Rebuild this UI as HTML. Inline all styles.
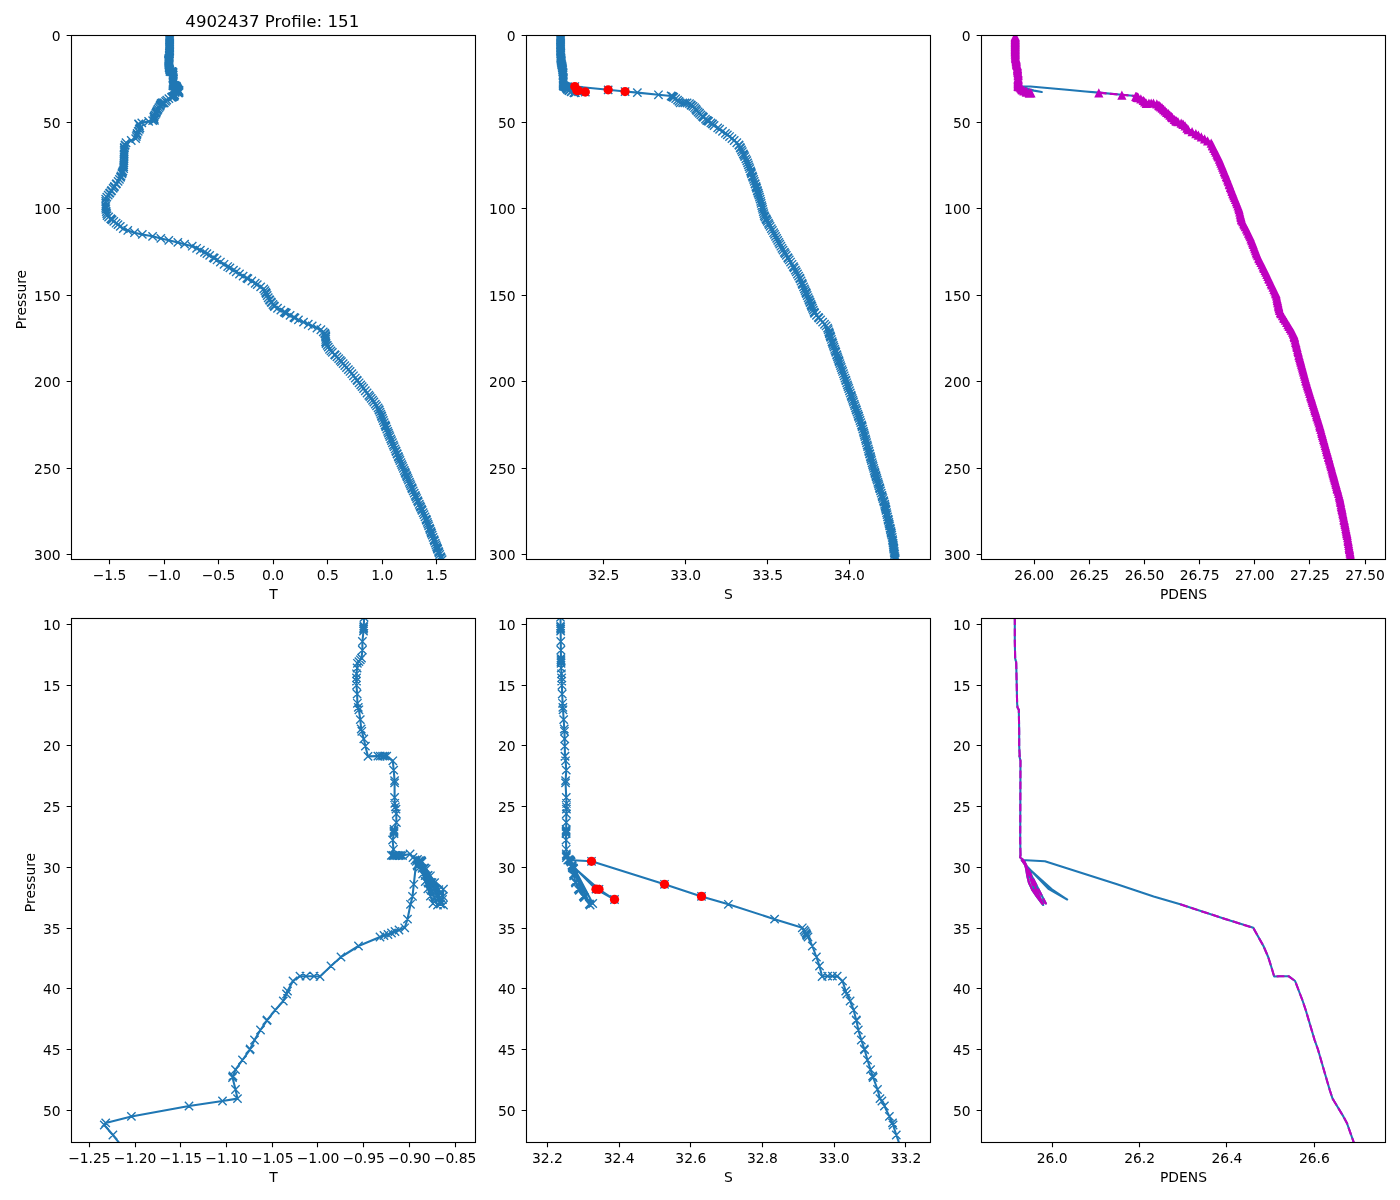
<!DOCTYPE html>
<html lang="en"><head><meta charset="utf-8"><title>4902437 Profile: 151</title>
<style>html,body{margin:0;padding:0;background:#fff}body{width:1400px;height:1200px;overflow:hidden}svg{display:block}</style></head>
<body>
<svg width="1400" height="1200" viewBox="0 0 1400 1200" font-family="DejaVu Sans, Liberation Sans, sans-serif" fill="#000">
<rect width="1400" height="1200" fill="#fff"/>
<defs><clipPath id="c00"><rect x="71.5" y="35.5" width="404" height="524"/></clipPath><clipPath id="c01"><rect x="71.5" y="618.5" width="404" height="524"/></clipPath><clipPath id="c10"><rect x="526.5" y="35.5" width="404" height="524"/></clipPath><clipPath id="c11"><rect x="526.5" y="618.5" width="404" height="524"/></clipPath><clipPath id="c20"><rect x="981.5" y="35.5" width="404" height="524"/></clipPath><clipPath id="c21"><rect x="981.5" y="618.5" width="404" height="524"/></clipPath></defs>
<g clip-path="url(#c00)"><polyline points="169.61,35.85 169.61,36.62 169.61,37.4 169.61,38.18 169.61,38.96 169.61,39.74 169.61,40.52 169.61,41.3 169.61,42.07 169.61,42.85 169.61,43.63 169.61,44.41 169.61,45.19 169.61,45.97 169.61,46.75 169.61,47.52 169.61,48.3 169.61,49.08 169.61,49.86 169.61,50.64 169.61,51.42 169.56,51.8 169.52,53 169.51,53.24 169.5,53.48 169.48,53.74 169.35,55.24 169.35,56.47 169.25,57.6 169.1,57.84 168.94,58.1 168.76,58.34 168.72,59.01 168.65,59.84 168.65,60.42 168.65,60.89 168.65,61.47 168.72,62.71 168.76,64.04 168.86,64.62 168.94,64.96 169.1,66.37 169.21,67.7 169.28,68.02 169.52,69.11 169.71,70.15 170.02,71.6 171.2,71.56 171.49,71.56 171.76,71.56 172,71.56 172.25,71.56 172.98,72.23 173.09,73.55 173.2,75.05 173.2,75.37 173.2,77.45 173.22,78.28 173.29,78.78 173.36,79.12 173.4,79.77 173.41,81.01 173.12,82.01 173.12,82.22 173.12,82.42 173.12,82.59 172.96,83.5 173.06,84.83 172.81,85.7 173,85.71 173.18,85.73 173.36,85.7 173.54,85.71 173.72,85.73 173.9,85.7 174.14,85.71 175.05,85.5 175.39,86 175.93,86.28 176.24,87.33 176.54,88.37 176.85,89.42 177.16,90.46 177.47,91.5 177.78,92.55 176.11,86.5 176.48,87.54 176.84,88.58 177.21,89.63 177.58,90.67 177.95,91.72 178.31,92.76 176.29,86.42 176.74,87.48 177.2,88.54 177.66,89.59 178.12,90.65 178.57,91.71 179.03,92.76 176.41,86.5 176.78,87.52 177.16,88.54 177.54,89.56 177.92,90.58 178.29,91.6 178.67,92.62 176.47,86.64 176.97,87.62 177.47,88.6 177.97,89.59 178.47,90.57 178.97,91.55 175.87,87.07 179.03,90.51 178.91,91.98 178.99,90.53 175.93,87.21 175.63,86.35 175.78,86.54 175.49,89.81 175.33,91.54 175.09,92.66 174.73,94.78 174.4,96.01 173.72,96.32 173.24,96.54 172.83,96.75 172.41,96.96 171.93,97.11 171.45,97.32 168.89,98.6 166.8,100.17 165.61,101.45 164.29,102.94 163.58,102.9 162.62,102.9 161.91,102.9 161.07,103.59 160.41,105.01 160.3,105.44 159.91,106.43 158.96,107.72 157.99,109.14 157.94,109.23 157.19,110.56 156.48,111.99 155.96,113.27 155.92,113.38 155.04,114.84 154.21,116.22 153.91,117.12 153.85,117.33 154.21,119.04 154.45,120.33 152.66,120.68 148.66,121.39 141.79,122.87 138.72,123.79 138.55,124.09 139.58,125.52 139.96,127.88 139.27,129.27 138.23,131.34 137.19,133.42 136.76,134.8 136.28,136.53 135.68,138.61 131.26,140.51 126.03,142.76 125.16,144.84 124.99,145.44 124.41,147.52 124.29,148.12 124.24,150.03 124.19,151.76 124.13,153.83 124.09,155.22 124.05,156.6 123.99,158.85 123.94,160.75 123.87,162.83 123.78,164.9 123.7,166.81 123.62,168.71 122.96,170.96 122.42,172.34 121.89,173.73 121.02,175.98 120.48,177.36 119.42,179.44 118.09,181.34 116.51,183.59 116.09,184.19 114.52,186.44 114.1,187.05 113.11,188.43 111.6,190.51 111.16,191.11 109.9,192.84 109.45,193.45 108.19,195.18 106.81,197.08 105.7,199.16 105.7,201.41 105.7,203.31 105.7,205.56 105.7,207.46 105.85,209.36 106.29,211.61 106.7,213.69 107.08,215.59 108.63,216.98 110.69,218.71 111.41,219.31 112.14,219.92 113.79,221.3 116.11,223.2 117.97,224.59 120.29,226.32 123.32,228.57 127.79,230.47 134.48,232.72 142.32,234.45 152.59,236.35 160.84,238.43 168.8,240.33 177.85,242.41 184.56,244.14 192.21,246.21 196.62,248.29 200.37,250.19 204.46,252.27 206.91,253.65 209.69,255.38 213.3,257.63 214.27,258.24 217.05,259.97 220.41,262.04 224.05,264.29 227.7,266.54 229.91,267.93 233.47,270.17 236.21,271.9 239.49,273.98 243.13,276.06 246.83,278.13 247.91,278.74 251.83,280.99 255.2,283.24 257.28,284.62 260.65,286.87 263.77,288.94 264.94,290.67 265.74,292.4 266.02,293.01 266.3,293.62 267.18,295.52 268.22,297.77 269.38,299.67 269.83,300.28 271.09,302.01 271.53,302.61 272.92,304.51 273.93,305.9 274.48,306.5 277.52,308.23 280.85,310.14 284.19,312.04 285.25,312.65 286.34,313.25 290.11,315.33 293.88,317.4 294.98,318.01 298.44,319.91 303.53,322.16 308.26,324.24 312.2,325.97 316.94,328.04 320.88,329.77 323.25,331.85 324.63,333.23 325.24,333.84 325.7,335.57 325.7,336.17 325.7,336.78 325.7,337.38 325.7,339.46 325.7,341.54 325.7,342.14 326.08,343.53 327.23,345.43 328.28,347.16 329.54,349.24 330.97,350.97 332.35,352.35 334.6,354.6 335.2,355.2 336.93,356.93 338.66,358.66 340.2,360.39 341.43,361.78 343.13,363.68 344.82,365.58 346.51,367.49 348.36,369.56 350.05,371.47 351.85,373.71 353.5,375.79 355.29,378.04 356.95,380.12 357.43,380.72 359.09,382.8 360.74,384.87 362.1,386.6 363.58,388.51 365.32,390.76 367.06,393 368.81,395.25 369.88,396.64 371.22,398.37 372.6,400.27 373.85,402 375.34,404.08 376.59,405.81 378.08,407.88 379,409.61 379.24,410.22 380,412.12 380.83,414.2 381.52,415.93 381.76,416.53 382.52,418.44 383.35,420.51 384.18,422.59 385.08,424.84 385.63,426.22 385.88,426.83 386.78,429.07 387.68,431.32 388.38,433.05 389.14,434.96 389.83,436.69 390.78,438.94 391.52,440.67 392.4,442.74 393.35,444.99 394.09,446.72 395.05,448.97 395.86,450.87 396.11,451.48 397,453.55 397.25,454.16 398.21,456.41 398.47,457.01 399.21,458.74 399.96,460.47 400.93,462.72 401.76,464.63 402.51,466.36 403.41,468.43 404.31,470.51 405.06,472.24 405.66,473.62 406.41,475.35 407.01,476.74 407.76,478.47 408.51,480.2 409.41,482.27 410.16,484 410.91,485.73 411.74,487.64 412,488.24 412.26,488.85 413.19,490.92 414.22,493.17 415.24,495.42 415.87,496.8 416.66,498.53 417.61,500.61 418.24,501.99 419.26,504.24 420.05,505.97 420.68,507.36 421.47,509.09 422.1,510.47 423.12,512.72 423.99,514.62 425.01,516.87 426.04,519.12 426.31,519.73 426.54,520.33 427.34,522.41 428,524.14 428.67,525.87 429.53,528.12 430.06,529.5 430.79,531.4 431.32,532.79 431.56,533.39 432.22,535.12 433.08,537.37 433.95,539.62 434.48,541.01 435.27,543.08 436,544.99 436.67,546.72 437.2,548.1 437.43,548.7 437.66,549.31 438.46,551.39 438.99,552.77 439.65,554.5 440.59,556.58 441.28,557.96 442.13,559.69" fill="none" stroke="#1f77b4" stroke-width="2.08" stroke-linejoin="round" stroke-linecap="square"/><path d="M165.45 31.68l8.33 8.33m0 -8.33l-8.33 8.33M165.45 32.46l8.33 8.33m0 -8.33l-8.33 8.33M165.45 33.24l8.33 8.33m0 -8.33l-8.33 8.33M165.45 34.01l8.33 8.33m0 -8.33l-8.33 8.33M165.45 34.79l8.33 8.33m0 -8.33l-8.33 8.33M165.45 35.57l8.33 8.33m0 -8.33l-8.33 8.33M165.45 36.35l8.33 8.33m0 -8.33l-8.33 8.33M165.45 37.13l8.33 8.33m0 -8.33l-8.33 8.33M165.45 37.91l8.33 8.33m0 -8.33l-8.33 8.33M165.45 38.69l8.33 8.33m0 -8.33l-8.33 8.33M165.45 39.46l8.33 8.33m0 -8.33l-8.33 8.33M165.45 40.24l8.33 8.33m0 -8.33l-8.33 8.33M165.45 41.02l8.33 8.33m0 -8.33l-8.33 8.33M165.45 41.8l8.33 8.33m0 -8.33l-8.33 8.33M165.45 42.58l8.33 8.33m0 -8.33l-8.33 8.33M165.45 43.36l8.33 8.33m0 -8.33l-8.33 8.33M165.45 44.14l8.33 8.33m0 -8.33l-8.33 8.33M165.45 44.91l8.33 8.33m0 -8.33l-8.33 8.33M165.45 45.69l8.33 8.33m0 -8.33l-8.33 8.33M165.45 46.47l8.33 8.33m0 -8.33l-8.33 8.33M165.45 47.25l8.33 8.33m0 -8.33l-8.33 8.33M165.39 47.64l8.33 8.33m0 -8.33l-8.33 8.33M165.35 48.83l8.33 8.33m0 -8.33l-8.33 8.33M165.34 49.07l8.33 8.33m0 -8.33l-8.33 8.33M165.33 49.32l8.33 8.33m0 -8.33l-8.33 8.33M165.32 49.57l8.33 8.33m0 -8.33l-8.33 8.33M165.19 51.07l8.33 8.33m0 -8.33l-8.33 8.33M165.19 52.31l8.33 8.33m0 -8.33l-8.33 8.33M165.08 53.43l8.33 8.33m0 -8.33l-8.33 8.33M164.94 53.67l8.33 8.33m0 -8.33l-8.33 8.33M164.77 53.93l8.33 8.33m0 -8.33l-8.33 8.33M164.59 54.17l8.33 8.33m0 -8.33l-8.33 8.33M164.55 54.84l8.33 8.33m0 -8.33l-8.33 8.33M164.48 55.67l8.33 8.33m0 -8.33l-8.33 8.33M164.48 56.25l8.33 8.33m0 -8.33l-8.33 8.33M164.48 56.72l8.33 8.33m0 -8.33l-8.33 8.33M164.48 57.31l8.33 8.33m0 -8.33l-8.33 8.33M164.55 58.55l8.33 8.33m0 -8.33l-8.33 8.33M164.59 59.87l8.33 8.33m0 -8.33l-8.33 8.33M164.7 60.45l8.33 8.33m0 -8.33l-8.33 8.33M164.77 60.8l8.33 8.33m0 -8.33l-8.33 8.33M164.94 62.21l8.33 8.33m0 -8.33l-8.33 8.33M165.04 63.53l8.33 8.33m0 -8.33l-8.33 8.33M165.11 63.86l8.33 8.33m0 -8.33l-8.33 8.33M165.35 64.94l8.33 8.33m0 -8.33l-8.33 8.33M165.54 65.98l8.33 8.33m0 -8.33l-8.33 8.33M165.85 67.43l8.33 8.33m0 -8.33l-8.33 8.33M167.04 67.39l8.33 8.33m0 -8.33l-8.33 8.33M167.32 67.39l8.33 8.33m0 -8.33l-8.33 8.33M167.6 67.39l8.33 8.33m0 -8.33l-8.33 8.33M167.84 67.39l8.33 8.33m0 -8.33l-8.33 8.33M168.09 67.39l8.33 8.33m0 -8.33l-8.33 8.33M168.81 68.06l8.33 8.33m0 -8.33l-8.33 8.33M168.92 69.38l8.33 8.33m0 -8.33l-8.33 8.33M169.03 70.88l8.33 8.33m0 -8.33l-8.33 8.33M169.03 71.21l8.33 8.33m0 -8.33l-8.33 8.33M169.03 73.29l8.33 8.33m0 -8.33l-8.33 8.33M169.05 74.11l8.33 8.33m0 -8.33l-8.33 8.33M169.12 74.61l8.33 8.33m0 -8.33l-8.33 8.33M169.2 74.95l8.33 8.33m0 -8.33l-8.33 8.33M169.23 75.61l8.33 8.33m0 -8.33l-8.33 8.33M169.24 76.85l8.33 8.33m0 -8.33l-8.33 8.33M168.96 77.84l8.33 8.33m0 -8.33l-8.33 8.33M168.96 78.06l8.33 8.33m0 -8.33l-8.33 8.33M168.96 78.26l8.33 8.33m0 -8.33l-8.33 8.33M168.96 78.43l8.33 8.33m0 -8.33l-8.33 8.33M168.79 79.34l8.33 8.33m0 -8.33l-8.33 8.33M168.9 80.66l8.33 8.33m0 -8.33l-8.33 8.33M168.65 81.53l8.33 8.33m0 -8.33l-8.33 8.33M168.84 81.55l8.33 8.33m0 -8.33l-8.33 8.33M169.02 81.56l8.33 8.33m0 -8.33l-8.33 8.33M169.2 81.53l8.33 8.33m0 -8.33l-8.33 8.33M169.37 81.55l8.33 8.33m0 -8.33l-8.33 8.33M169.55 81.56l8.33 8.33m0 -8.33l-8.33 8.33M169.73 81.53l8.33 8.33m0 -8.33l-8.33 8.33M169.97 81.55l8.33 8.33m0 -8.33l-8.33 8.33M170.88 81.33l8.33 8.33m0 -8.33l-8.33 8.33M171.22 81.83l8.33 8.33m0 -8.33l-8.33 8.33M171.76 82.12l8.33 8.33m0 -8.33l-8.33 8.33M172.07 83.16l8.33 8.33m0 -8.33l-8.33 8.33M172.38 84.2l8.33 8.33m0 -8.33l-8.33 8.33M172.69 85.25l8.33 8.33m0 -8.33l-8.33 8.33M172.99 86.29l8.33 8.33m0 -8.33l-8.33 8.33M173.3 87.34l8.33 8.33m0 -8.33l-8.33 8.33M173.61 88.38l8.33 8.33m0 -8.33l-8.33 8.33M171.94 82.33l8.33 8.33m0 -8.33l-8.33 8.33M172.31 83.37l8.33 8.33m0 -8.33l-8.33 8.33M172.68 84.42l8.33 8.33m0 -8.33l-8.33 8.33M173.04 85.46l8.33 8.33m0 -8.33l-8.33 8.33M173.41 86.51l8.33 8.33m0 -8.33l-8.33 8.33M173.78 87.55l8.33 8.33m0 -8.33l-8.33 8.33M174.15 88.6l8.33 8.33m0 -8.33l-8.33 8.33M172.12 82.26l8.33 8.33m0 -8.33l-8.33 8.33M172.58 83.31l8.33 8.33m0 -8.33l-8.33 8.33M173.03 84.37l8.33 8.33m0 -8.33l-8.33 8.33M173.49 85.43l8.33 8.33m0 -8.33l-8.33 8.33M173.95 86.48l8.33 8.33m0 -8.33l-8.33 8.33M174.41 87.54l8.33 8.33m0 -8.33l-8.33 8.33M174.86 88.6l8.33 8.33m0 -8.33l-8.33 8.33M172.24 82.33l8.33 8.33m0 -8.33l-8.33 8.33M172.62 83.35l8.33 8.33m0 -8.33l-8.33 8.33M172.99 84.37l8.33 8.33m0 -8.33l-8.33 8.33M173.37 85.39l8.33 8.33m0 -8.33l-8.33 8.33M173.75 86.41l8.33 8.33m0 -8.33l-8.33 8.33M174.13 87.43l8.33 8.33m0 -8.33l-8.33 8.33M174.51 88.45l8.33 8.33m0 -8.33l-8.33 8.33M172.3 82.47l8.33 8.33m0 -8.33l-8.33 8.33M172.8 83.45l8.33 8.33m0 -8.33l-8.33 8.33M173.3 84.44l8.33 8.33m0 -8.33l-8.33 8.33M173.8 85.42l8.33 8.33m0 -8.33l-8.33 8.33M174.3 86.4l8.33 8.33m0 -8.33l-8.33 8.33M174.8 87.38l8.33 8.33m0 -8.33l-8.33 8.33M171.7 82.9l8.33 8.33m0 -8.33l-8.33 8.33M174.86 86.35l8.33 8.33m0 -8.33l-8.33 8.33M174.74 87.81l8.33 8.33m0 -8.33l-8.33 8.33M174.83 86.36l8.33 8.33m0 -8.33l-8.33 8.33M171.76 83.04l8.33 8.33m0 -8.33l-8.33 8.33M171.46 82.19l8.33 8.33m0 -8.33l-8.33 8.33M171.62 82.37l8.33 8.33m0 -8.33l-8.33 8.33M171.32 85.65l8.33 8.33m0 -8.33l-8.33 8.33M171.16 87.37l8.33 8.33m0 -8.33l-8.33 8.33M170.93 88.5l8.33 8.33m0 -8.33l-8.33 8.33M170.57 90.62l8.33 8.33m0 -8.33l-8.33 8.33M170.23 91.84l8.33 8.33m0 -8.33l-8.33 8.33M169.55 92.16l8.33 8.33m0 -8.33l-8.33 8.33M169.08 92.37l8.33 8.33m0 -8.33l-8.33 8.33M168.66 92.58l8.33 8.33m0 -8.33l-8.33 8.33M168.24 92.8l8.33 8.33m0 -8.33l-8.33 8.33M167.76 92.94l8.33 8.33m0 -8.33l-8.33 8.33M167.29 93.15l8.33 8.33m0 -8.33l-8.33 8.33M164.72 94.43l8.33 8.33m0 -8.33l-8.33 8.33M162.63 96l8.33 8.33m0 -8.33l-8.33 8.33M161.44 97.28l8.33 8.33m0 -8.33l-8.33 8.33M160.13 98.78l8.33 8.33m0 -8.33l-8.33 8.33M159.41 98.74l8.33 8.33m0 -8.33l-8.33 8.33M158.46 98.74l8.33 8.33m0 -8.33l-8.33 8.33M157.74 98.74l8.33 8.33m0 -8.33l-8.33 8.33M156.9 99.42l8.33 8.33m0 -8.33l-8.33 8.33M156.25 100.84l8.33 8.33m0 -8.33l-8.33 8.33M156.13 101.27l8.33 8.33m0 -8.33l-8.33 8.33M155.75 102.27l8.33 8.33m0 -8.33l-8.33 8.33M154.79 103.55l8.33 8.33m0 -8.33l-8.33 8.33M153.83 104.97l8.33 8.33m0 -8.33l-8.33 8.33M153.78 105.06l8.33 8.33m0 -8.33l-8.33 8.33M153.03 106.4l8.33 8.33m0 -8.33l-8.33 8.33M152.31 107.82l8.33 8.33m0 -8.33l-8.33 8.33M151.8 109.1l8.33 8.33m0 -8.33l-8.33 8.33M151.75 109.22l8.33 8.33m0 -8.33l-8.33 8.33M150.88 110.67l8.33 8.33m0 -8.33l-8.33 8.33M150.04 112.05l8.33 8.33m0 -8.33l-8.33 8.33M149.74 112.95l8.33 8.33m0 -8.33l-8.33 8.33M149.68 113.16l8.33 8.33m0 -8.33l-8.33 8.33M150.04 114.87l8.33 8.33m0 -8.33l-8.33 8.33M150.28 116.17l8.33 8.33m0 -8.33l-8.33 8.33M148.49 116.51l8.33 8.33m0 -8.33l-8.33 8.33M144.49 117.22l8.33 8.33m0 -8.33l-8.33 8.33M137.62 118.7l8.33 8.33m0 -8.33l-8.33 8.33M134.55 119.63l8.33 8.33m0 -8.33l-8.33 8.33M134.39 119.93l8.33 8.33m0 -8.33l-8.33 8.33M135.41 121.35l8.33 8.33m0 -8.33l-8.33 8.33M135.79 123.72l8.33 8.33m0 -8.33l-8.33 8.33M135.1 125.1l8.33 8.33m0 -8.33l-8.33 8.33M134.06 127.18l8.33 8.33m0 -8.33l-8.33 8.33M133.02 129.25l8.33 8.33m0 -8.33l-8.33 8.33M132.6 130.64l8.33 8.33m0 -8.33l-8.33 8.33M132.11 132.37l8.33 8.33m0 -8.33l-8.33 8.33M131.51 134.44l8.33 8.33m0 -8.33l-8.33 8.33M127.09 136.34l8.33 8.33m0 -8.33l-8.33 8.33M121.86 138.59l8.33 8.33m0 -8.33l-8.33 8.33M120.99 140.67l8.33 8.33m0 -8.33l-8.33 8.33M120.82 141.27l8.33 8.33m0 -8.33l-8.33 8.33M120.24 143.35l8.33 8.33m0 -8.33l-8.33 8.33M120.13 143.96l8.33 8.33m0 -8.33l-8.33 8.33M120.07 145.86l8.33 8.33m0 -8.33l-8.33 8.33M120.02 147.59l8.33 8.33m0 -8.33l-8.33 8.33M119.97 149.67l8.33 8.33m0 -8.33l-8.33 8.33M119.93 151.05l8.33 8.33m0 -8.33l-8.33 8.33M119.89 152.43l8.33 8.33m0 -8.33l-8.33 8.33M119.82 154.68l8.33 8.33m0 -8.33l-8.33 8.33M119.77 156.59l8.33 8.33m0 -8.33l-8.33 8.33M119.7 158.66l8.33 8.33m0 -8.33l-8.33 8.33M119.62 160.74l8.33 8.33m0 -8.33l-8.33 8.33M119.54 162.64l8.33 8.33m0 -8.33l-8.33 8.33M119.46 164.54l8.33 8.33m0 -8.33l-8.33 8.33M118.79 166.79l8.33 8.33m0 -8.33l-8.33 8.33M118.26 168.18l8.33 8.33m0 -8.33l-8.33 8.33M117.72 169.56l8.33 8.33m0 -8.33l-8.33 8.33M116.85 171.81l8.33 8.33m0 -8.33l-8.33 8.33M116.31 173.19l8.33 8.33m0 -8.33l-8.33 8.33M115.25 175.27l8.33 8.33m0 -8.33l-8.33 8.33M113.92 177.17l8.33 8.33m0 -8.33l-8.33 8.33M112.35 179.42l8.33 8.33m0 -8.33l-8.33 8.33M111.92 180.03l8.33 8.33m0 -8.33l-8.33 8.33M110.35 182.28l8.33 8.33m0 -8.33l-8.33 8.33M109.93 182.88l8.33 8.33m0 -8.33l-8.33 8.33M108.95 184.27l8.33 8.33m0 -8.33l-8.33 8.33M107.43 186.34l8.33 8.33m0 -8.33l-8.33 8.33M106.99 186.95l8.33 8.33m0 -8.33l-8.33 8.33M105.73 188.68l8.33 8.33m0 -8.33l-8.33 8.33M105.29 189.28l8.33 8.33m0 -8.33l-8.33 8.33M104.03 191.01l8.33 8.33m0 -8.33l-8.33 8.33M102.64 192.92l8.33 8.33m0 -8.33l-8.33 8.33M101.53 194.99l8.33 8.33m0 -8.33l-8.33 8.33M101.53 197.24l8.33 8.33m0 -8.33l-8.33 8.33M101.53 199.14l8.33 8.33m0 -8.33l-8.33 8.33M101.53 201.39l8.33 8.33m0 -8.33l-8.33 8.33M101.53 203.3l8.33 8.33m0 -8.33l-8.33 8.33M101.68 205.2l8.33 8.33m0 -8.33l-8.33 8.33M102.13 207.45l8.33 8.33m0 -8.33l-8.33 8.33M102.54 209.52l8.33 8.33m0 -8.33l-8.33 8.33M102.91 211.43l8.33 8.33m0 -8.33l-8.33 8.33M104.46 212.81l8.33 8.33m0 -8.33l-8.33 8.33M106.53 214.54l8.33 8.33m0 -8.33l-8.33 8.33M107.25 215.15l8.33 8.33m0 -8.33l-8.33 8.33M107.97 215.75l8.33 8.33m0 -8.33l-8.33 8.33M109.62 217.14l8.33 8.33m0 -8.33l-8.33 8.33M111.94 219.04l8.33 8.33m0 -8.33l-8.33 8.33M113.8 220.42l8.33 8.33m0 -8.33l-8.33 8.33M116.13 222.15l8.33 8.33m0 -8.33l-8.33 8.33M119.15 224.4l8.33 8.33m0 -8.33l-8.33 8.33M123.62 226.3l8.33 8.33m0 -8.33l-8.33 8.33M130.31 228.55l8.33 8.33m0 -8.33l-8.33 8.33M138.15 230.28l8.33 8.33m0 -8.33l-8.33 8.33M148.43 232.19l8.33 8.33m0 -8.33l-8.33 8.33M156.67 234.26l8.33 8.33m0 -8.33l-8.33 8.33M164.63 236.17l8.33 8.33m0 -8.33l-8.33 8.33M173.69 238.24l8.33 8.33m0 -8.33l-8.33 8.33M180.4 239.97l8.33 8.33m0 -8.33l-8.33 8.33M188.05 242.05l8.33 8.33m0 -8.33l-8.33 8.33M192.46 244.12l8.33 8.33m0 -8.33l-8.33 8.33M196.2 246.03l8.33 8.33m0 -8.33l-8.33 8.33M200.29 248.1l8.33 8.33m0 -8.33l-8.33 8.33M202.74 249.49l8.33 8.33m0 -8.33l-8.33 8.33M205.52 251.22l8.33 8.33m0 -8.33l-8.33 8.33M209.13 253.47l8.33 8.33m0 -8.33l-8.33 8.33M210.1 254.07l8.33 8.33m0 -8.33l-8.33 8.33M212.88 255.8l8.33 8.33m0 -8.33l-8.33 8.33M216.24 257.88l8.33 8.33m0 -8.33l-8.33 8.33M219.89 260.13l8.33 8.33m0 -8.33l-8.33 8.33M223.53 262.37l8.33 8.33m0 -8.33l-8.33 8.33M225.74 263.76l8.33 8.33m0 -8.33l-8.33 8.33M229.3 266.01l8.33 8.33m0 -8.33l-8.33 8.33M232.04 267.74l8.33 8.33m0 -8.33l-8.33 8.33M235.33 269.81l8.33 8.33m0 -8.33l-8.33 8.33M238.96 271.89l8.33 8.33m0 -8.33l-8.33 8.33M242.66 273.97l8.33 8.33m0 -8.33l-8.33 8.33M243.74 274.57l8.33 8.33m0 -8.33l-8.33 8.33M247.66 276.82l8.33 8.33m0 -8.33l-8.33 8.33M251.04 279.07l8.33 8.33m0 -8.33l-8.33 8.33M253.11 280.45l8.33 8.33m0 -8.33l-8.33 8.33M256.49 282.7l8.33 8.33m0 -8.33l-8.33 8.33M259.6 284.78l8.33 8.33m0 -8.33l-8.33 8.33M260.77 286.51l8.33 8.33m0 -8.33l-8.33 8.33M261.57 288.24l8.33 8.33m0 -8.33l-8.33 8.33M261.85 288.84l8.33 8.33m0 -8.33l-8.33 8.33M262.13 289.45l8.33 8.33m0 -8.33l-8.33 8.33M263.01 291.35l8.33 8.33m0 -8.33l-8.33 8.33M264.05 293.6l8.33 8.33m0 -8.33l-8.33 8.33M265.22 295.5l8.33 8.33m0 -8.33l-8.33 8.33M265.66 296.11l8.33 8.33m0 -8.33l-8.33 8.33M266.92 297.84l8.33 8.33m0 -8.33l-8.33 8.33M267.37 298.45l8.33 8.33m0 -8.33l-8.33 8.33M268.76 300.35l8.33 8.33m0 -8.33l-8.33 8.33M269.77 301.73l8.33 8.33m0 -8.33l-8.33 8.33M270.32 302.34l8.33 8.33m0 -8.33l-8.33 8.33M273.35 304.07l8.33 8.33m0 -8.33l-8.33 8.33M276.69 305.97l8.33 8.33m0 -8.33l-8.33 8.33M280.03 307.87l8.33 8.33m0 -8.33l-8.33 8.33M281.09 308.48l8.33 8.33m0 -8.33l-8.33 8.33M282.17 309.08l8.33 8.33m0 -8.33l-8.33 8.33M285.94 311.16l8.33 8.33m0 -8.33l-8.33 8.33M289.72 313.24l8.33 8.33m0 -8.33l-8.33 8.33M290.82 313.84l8.33 8.33m0 -8.33l-8.33 8.33M294.27 315.75l8.33 8.33m0 -8.33l-8.33 8.33M299.36 317.99l8.33 8.33m0 -8.33l-8.33 8.33M304.09 320.07l8.33 8.33m0 -8.33l-8.33 8.33M308.04 321.8l8.33 8.33m0 -8.33l-8.33 8.33M312.77 323.88l8.33 8.33m0 -8.33l-8.33 8.33M316.72 325.61l8.33 8.33m0 -8.33l-8.33 8.33M319.08 327.68l8.33 8.33m0 -8.33l-8.33 8.33M320.47 329.07l8.33 8.33m0 -8.33l-8.33 8.33M321.07 329.67l8.33 8.33m0 -8.33l-8.33 8.33M321.53 331.4l8.33 8.33m0 -8.33l-8.33 8.33M321.53 332.01l8.33 8.33m0 -8.33l-8.33 8.33M321.53 332.61l8.33 8.33m0 -8.33l-8.33 8.33M321.53 333.22l8.33 8.33m0 -8.33l-8.33 8.33M321.53 335.29l8.33 8.33m0 -8.33l-8.33 8.33M321.53 337.37l8.33 8.33m0 -8.33l-8.33 8.33M321.53 337.98l8.33 8.33m0 -8.33l-8.33 8.33M321.91 339.36l8.33 8.33m0 -8.33l-8.33 8.33M323.07 341.26l8.33 8.33m0 -8.33l-8.33 8.33M324.11 342.99l8.33 8.33m0 -8.33l-8.33 8.33M325.37 345.07l8.33 8.33m0 -8.33l-8.33 8.33M326.8 346.8l8.33 8.33m0 -8.33l-8.33 8.33M328.18 348.18l8.33 8.33m0 -8.33l-8.33 8.33M330.43 350.43l8.33 8.33m0 -8.33l-8.33 8.33M331.04 351.04l8.33 8.33m0 -8.33l-8.33 8.33M332.77 352.77l8.33 8.33m0 -8.33l-8.33 8.33M334.49 354.5l8.33 8.33m0 -8.33l-8.33 8.33M336.03 356.23l8.33 8.33m0 -8.33l-8.33 8.33M337.26 357.61l8.33 8.33m0 -8.33l-8.33 8.33M338.96 359.51l8.33 8.33m0 -8.33l-8.33 8.33M340.65 361.42l8.33 8.33m0 -8.33l-8.33 8.33M342.35 363.32l8.33 8.33m0 -8.33l-8.33 8.33M344.2 365.4l8.33 8.33m0 -8.33l-8.33 8.33M345.89 367.3l8.33 8.33m0 -8.33l-8.33 8.33M347.68 369.55l8.33 8.33m0 -8.33l-8.33 8.33M349.33 371.62l8.33 8.33m0 -8.33l-8.33 8.33M351.13 373.87l8.33 8.33m0 -8.33l-8.33 8.33M352.78 375.95l8.33 8.33m0 -8.33l-8.33 8.33M353.26 376.55l8.33 8.33m0 -8.33l-8.33 8.33M354.92 378.63l8.33 8.33m0 -8.33l-8.33 8.33M356.57 380.71l8.33 8.33m0 -8.33l-8.33 8.33M357.93 382.44l8.33 8.33m0 -8.33l-8.33 8.33M359.41 384.34l8.33 8.33m0 -8.33l-8.33 8.33M361.15 386.59l8.33 8.33m0 -8.33l-8.33 8.33M362.9 388.84l8.33 8.33m0 -8.33l-8.33 8.33M364.64 391.09l8.33 8.33m0 -8.33l-8.33 8.33M365.71 392.47l8.33 8.33m0 -8.33l-8.33 8.33M367.05 394.2l8.33 8.33m0 -8.33l-8.33 8.33M368.44 396.1l8.33 8.33m0 -8.33l-8.33 8.33M369.68 397.83l8.33 8.33m0 -8.33l-8.33 8.33M371.18 399.91l8.33 8.33m0 -8.33l-8.33 8.33M372.42 401.64l8.33 8.33m0 -8.33l-8.33 8.33M373.92 403.72l8.33 8.33m0 -8.33l-8.33 8.33M374.84 405.45l8.33 8.33m0 -8.33l-8.33 8.33M375.08 406.05l8.33 8.33m0 -8.33l-8.33 8.33M375.84 407.95l8.33 8.33m0 -8.33l-8.33 8.33M376.66 410.03l8.33 8.33m0 -8.33l-8.33 8.33M377.35 411.76l8.33 8.33m0 -8.33l-8.33 8.33M377.6 412.37l8.33 8.33m0 -8.33l-8.33 8.33M378.35 414.27l8.33 8.33m0 -8.33l-8.33 8.33M379.18 416.34l8.33 8.33m0 -8.33l-8.33 8.33M380.01 418.42l8.33 8.33m0 -8.33l-8.33 8.33M380.91 420.67l8.33 8.33m0 -8.33l-8.33 8.33M381.47 422.05l8.33 8.33m0 -8.33l-8.33 8.33M381.71 422.66l8.33 8.33m0 -8.33l-8.33 8.33M382.61 424.91l8.33 8.33m0 -8.33l-8.33 8.33M383.51 427.16l8.33 8.33m0 -8.33l-8.33 8.33M384.21 428.89l8.33 8.33m0 -8.33l-8.33 8.33M384.97 430.79l8.33 8.33m0 -8.33l-8.33 8.33M385.67 432.52l8.33 8.33m0 -8.33l-8.33 8.33M386.61 434.77l8.33 8.33m0 -8.33l-8.33 8.33M387.35 436.5l8.33 8.33m0 -8.33l-8.33 8.33M388.23 438.58l8.33 8.33m0 -8.33l-8.33 8.33M389.19 440.82l8.33 8.33m0 -8.33l-8.33 8.33M389.92 442.55l8.33 8.33m0 -8.33l-8.33 8.33M390.88 444.8l8.33 8.33m0 -8.33l-8.33 8.33M391.69 446.71l8.33 8.33m0 -8.33l-8.33 8.33M391.95 447.31l8.33 8.33m0 -8.33l-8.33 8.33M392.83 449.39l8.33 8.33m0 -8.33l-8.33 8.33M393.09 449.99l8.33 8.33m0 -8.33l-8.33 8.33M394.04 452.24l8.33 8.33m0 -8.33l-8.33 8.33M394.3 452.85l8.33 8.33m0 -8.33l-8.33 8.33M395.04 454.58l8.33 8.33m0 -8.33l-8.33 8.33M395.79 456.31l8.33 8.33m0 -8.33l-8.33 8.33M396.77 458.56l8.33 8.33m0 -8.33l-8.33 8.33M397.59 460.46l8.33 8.33m0 -8.33l-8.33 8.33M398.34 462.19l8.33 8.33m0 -8.33l-8.33 8.33M399.24 464.27l8.33 8.33m0 -8.33l-8.33 8.33M400.14 466.34l8.33 8.33m0 -8.33l-8.33 8.33M400.89 468.07l8.33 8.33m0 -8.33l-8.33 8.33M401.49 469.46l8.33 8.33m0 -8.33l-8.33 8.33M402.24 471.19l8.33 8.33m0 -8.33l-8.33 8.33M402.84 472.57l8.33 8.33m0 -8.33l-8.33 8.33M403.59 474.3l8.33 8.33m0 -8.33l-8.33 8.33M404.34 476.03l8.33 8.33m0 -8.33l-8.33 8.33M405.24 478.11l8.33 8.33m0 -8.33l-8.33 8.33M405.99 479.84l8.33 8.33m0 -8.33l-8.33 8.33M406.74 481.57l8.33 8.33m0 -8.33l-8.33 8.33M407.57 483.47l8.33 8.33m0 -8.33l-8.33 8.33M407.83 484.07l8.33 8.33m0 -8.33l-8.33 8.33M408.09 484.68l8.33 8.33m0 -8.33l-8.33 8.33M409.03 486.76l8.33 8.33m0 -8.33l-8.33 8.33M410.05 489l8.33 8.33m0 -8.33l-8.33 8.33M411.08 491.25l8.33 8.33m0 -8.33l-8.33 8.33M411.71 492.64l8.33 8.33m0 -8.33l-8.33 8.33M412.49 494.37l8.33 8.33m0 -8.33l-8.33 8.33M413.44 496.44l8.33 8.33m0 -8.33l-8.33 8.33M414.07 497.83l8.33 8.33m0 -8.33l-8.33 8.33M415.09 500.08l8.33 8.33m0 -8.33l-8.33 8.33M415.88 501.81l8.33 8.33m0 -8.33l-8.33 8.33M416.51 503.19l8.33 8.33m0 -8.33l-8.33 8.33M417.3 504.92l8.33 8.33m0 -8.33l-8.33 8.33M417.93 506.3l8.33 8.33m0 -8.33l-8.33 8.33M418.95 508.55l8.33 8.33m0 -8.33l-8.33 8.33M419.82 510.46l8.33 8.33m0 -8.33l-8.33 8.33M420.85 512.71l8.33 8.33m0 -8.33l-8.33 8.33M421.87 514.95l8.33 8.33m0 -8.33l-8.33 8.33M422.14 515.56l8.33 8.33m0 -8.33l-8.33 8.33M422.38 516.17l8.33 8.33m0 -8.33l-8.33 8.33M423.17 518.24l8.33 8.33m0 -8.33l-8.33 8.33M423.84 519.97l8.33 8.33m0 -8.33l-8.33 8.33M424.5 521.7l8.33 8.33m0 -8.33l-8.33 8.33M425.36 523.95l8.33 8.33m0 -8.33l-8.33 8.33M425.89 525.33l8.33 8.33m0 -8.33l-8.33 8.33M426.62 527.24l8.33 8.33m0 -8.33l-8.33 8.33M427.16 528.62l8.33 8.33m0 -8.33l-8.33 8.33M427.39 529.23l8.33 8.33m0 -8.33l-8.33 8.33M428.05 530.96l8.33 8.33m0 -8.33l-8.33 8.33M428.92 533.21l8.33 8.33m0 -8.33l-8.33 8.33M429.78 535.46l8.33 8.33m0 -8.33l-8.33 8.33M430.31 536.84l8.33 8.33m0 -8.33l-8.33 8.33M431.11 538.92l8.33 8.33m0 -8.33l-8.33 8.33M431.84 540.82l8.33 8.33m0 -8.33l-8.33 8.33M432.5 542.55l8.33 8.33m0 -8.33l-8.33 8.33M433.03 543.93l8.33 8.33m0 -8.33l-8.33 8.33M433.26 544.54l8.33 8.33m0 -8.33l-8.33 8.33M433.5 545.14l8.33 8.33m0 -8.33l-8.33 8.33M434.29 547.22l8.33 8.33m0 -8.33l-8.33 8.33M434.82 548.6l8.33 8.33m0 -8.33l-8.33 8.33M435.49 550.33l8.33 8.33m0 -8.33l-8.33 8.33M436.42 552.41l8.33 8.33m0 -8.33l-8.33 8.33M437.11 553.79l8.33 8.33m0 -8.33l-8.33 8.33M437.97 555.52l8.33 8.33m0 -8.33l-8.33 8.33" fill="none" stroke="#1f77b4" stroke-width="1.39"/></g>
<g clip-path="url(#c10)"><polyline points="560.59,35.85 560.59,36.62 560.59,37.4 560.59,38.18 560.59,38.96 560.59,39.74 560.59,40.52 560.59,41.3 560.59,42.07 560.59,42.85 560.59,43.63 560.59,44.41 560.59,45.19 560.59,45.97 560.59,46.75 560.59,47.52 560.59,48.3 560.59,49.08 560.59,49.86 560.59,50.64 560.59,51.42 560.65,51.8 560.69,53 560.69,53.24 560.7,53.48 560.71,53.74 560.77,55.24 560.81,56.47 560.85,57.6 560.86,57.84 560.87,58.1 560.9,58.34 560.98,59.01 561.08,59.84 561.15,60.42 561.2,60.89 561.27,61.47 561.42,62.71 561.6,64.04 561.72,64.62 561.8,64.96 562.1,66.37 562.38,67.7 562.45,68.02 562.54,69.11 562.6,70.15 562.7,71.6 562.69,71.56 562.69,71.56 562.69,71.56 562.69,71.56 562.69,71.56 562.96,72.23 563.29,73.55 562.97,75.05 562.95,75.37 563.28,77.45 563.38,78.28 563.36,78.78 563.35,79.12 563.32,79.77 563.27,81.01 563.23,82.01 563.22,82.22 563.21,82.42 563.21,82.59 563.17,83.5 563.25,84.83 563.33,85.7 563.33,85.71 563.34,85.73 563.33,85.7 563.33,85.71 563.34,85.73 563.33,85.7 563.33,85.71 563.32,85.5 563.34,86 564.61,86.28 565.95,87.33 566.6,88.37 567.38,89.42 568.79,90.46 571.08,91.5 575.38,92.55 565.2,86.5 566.58,87.54 566.71,88.58 567.59,89.63 569.25,90.67 571.6,91.72 574.2,92.76 565.04,86.42 566.08,87.48 566.69,88.54 567.55,89.59 569.2,90.65 571.57,91.71 574.2,92.76 565.2,86.5 566.56,87.52 566.69,88.54 567.52,89.56 569.05,90.58 571.31,91.6 573.82,92.62 565.5,86.64 566.67,87.62 566.72,88.6 567.55,89.59 569.03,90.57 571.19,91.55 565.89,87.07 576.87,90.51 585.32,91.98 578.24,90.53 566.03,87.21 563.98,86.35 574.81,86.54 608.16,89.81 625.07,91.54 637.36,92.66 658.47,94.78 671.12,96.01 671.9,96.32 672.36,96.54 672.82,96.75 673.04,96.96 673.27,97.11 673.73,97.32 675.69,98.6 677.57,100.17 678.98,101.45 680.17,102.94 682.73,102.9 684.88,102.9 687.07,102.9 689.49,103.59 690.95,105.01 691.46,105.44 692.96,106.43 694.56,107.72 695.75,109.14 695.89,109.23 696.71,110.56 698.08,111.99 699.45,113.27 699.59,113.38 700.91,114.84 702.33,116.22 703.25,117.12 703.52,117.33 705.48,119.04 706.63,120.33 707.49,120.68 708.64,121.39 710.92,122.87 712.34,123.79 712.61,124.09 714.07,125.52 717.69,127.88 719.62,129.27 722.52,131.34 725.41,133.42 727.35,134.8 729.57,136.53 731.98,138.61 734.19,140.51 736.81,142.76 738.87,144.84 739.17,145.44 740.2,147.52 740.5,148.12 741.45,150.03 742.31,151.76 743.34,153.83 744.03,155.22 744.71,156.6 745.83,158.85 746.78,160.75 747.61,162.83 748.36,164.9 749.05,166.81 749.73,168.71 750.54,170.96 751.04,172.34 751.54,173.73 752.35,175.98 752.85,177.36 753.59,179.44 754.28,181.34 755.03,183.59 755.23,184.19 755.97,186.44 756.17,187.05 756.63,188.43 757.32,190.51 757.52,191.11 758.09,192.84 758.29,193.45 758.87,195.18 759.5,197.08 760.14,199.16 760.71,201.41 761.18,203.31 761.75,205.56 762.23,207.46 762.71,209.36 763.27,211.61 763.79,213.69 764.27,215.59 765,216.98 765.95,218.71 766.28,219.31 766.61,219.92 767.37,221.3 768.41,223.2 769.17,224.59 770.12,226.32 771.35,228.57 772.39,230.47 773.61,232.72 774.54,234.45 775.56,236.35 776.68,238.43 777.7,240.33 778.82,242.41 779.75,244.14 780.86,246.21 781.98,248.29 783.02,250.19 784.35,252.27 785.23,253.65 786.33,255.38 787.76,257.63 788.15,258.24 789.25,259.97 790.57,262.04 792,264.29 793.36,266.54 794.12,267.93 795.36,270.17 796.31,271.9 797.46,273.98 798.6,276.06 799.74,278.13 800.06,278.74 801.02,280.99 801.97,283.24 802.56,284.62 803.52,286.87 804.4,288.94 805.14,290.67 805.88,292.4 806.13,293.01 806.39,293.62 807.2,295.52 808.16,297.77 808.96,299.67 809.21,300.28 809.93,302.01 810.19,302.61 810.98,304.51 811.56,305.9 811.82,306.5 812.54,308.23 813.34,310.14 814.13,312.04 814.38,312.65 814.64,313.25 816.45,315.33 818.33,317.4 818.88,318.01 820.61,319.91 822.65,322.16 824.53,324.24 826.1,325.97 827.61,328.04 828.19,329.77 828.88,331.85 829.33,333.23 829.53,333.84 830.11,335.57 830.31,336.17 830.51,336.78 830.71,337.38 831.4,339.46 832.09,341.54 832.29,342.14 832.75,343.53 833.38,345.43 833.97,347.16 834.71,349.24 835.33,350.97 835.82,352.35 836.62,354.6 836.84,355.2 837.46,356.93 838.08,358.66 838.69,360.39 839.19,361.78 839.86,363.68 840.54,365.58 841.22,367.49 841.96,369.56 842.64,371.47 843.44,373.71 844.18,375.79 844.99,378.04 845.73,380.12 845.94,380.72 846.68,382.8 847.42,384.87 848.03,386.6 848.7,388.51 849.5,390.76 850.3,393 851.09,395.25 851.58,396.64 852.2,398.37 852.87,400.27 853.48,402 854.22,404.08 854.83,405.81 855.57,407.88 856.18,409.61 856.39,410.22 857.07,412.12 857.8,414.2 858.42,415.93 858.63,416.53 859.3,418.44 860.04,420.51 860.77,422.59 861.57,424.84 861.98,426.22 862.15,426.83 862.77,429.07 863.4,431.32 863.88,433.05 864.41,434.96 864.89,436.69 865.51,438.94 865.99,440.67 866.56,442.74 867.19,444.99 867.67,446.72 868.29,448.97 868.82,450.87 868.99,451.48 869.56,453.55 869.73,454.16 870.35,456.41 870.52,457.01 871,458.74 871.48,460.47 872.1,462.72 872.63,464.63 873.11,466.36 873.69,468.43 874.26,470.51 874.78,472.24 875.21,473.62 875.75,475.35 876.17,476.74 876.71,478.47 877.24,480.2 877.88,482.27 878.42,484 878.95,485.73 879.54,487.64 879.73,488.24 879.92,488.85 880.56,490.92 881.25,493.17 881.95,495.42 882.38,496.8 882.91,498.53 883.55,500.61 883.98,501.99 884.66,504.24 885.05,505.97 885.37,507.36 885.77,509.09 886.09,510.47 886.6,512.72 887.04,514.62 887.56,516.87 888.07,519.12 888.21,519.73 888.35,520.33 888.83,522.41 889.22,524.14 889.62,525.87 890.14,528.12 890.46,529.5 890.89,531.4 891.21,532.79 891.35,533.39 891.75,535.12 892.24,537.37 892.55,539.62 892.74,541.01 893.03,543.08 893.3,544.99 893.54,546.72 893.73,548.1 893.81,548.7 893.9,549.31 894.18,551.39 894.38,552.77 894.62,554.5 894.91,556.58 895.1,557.96 895.35,559.69" fill="none" stroke="#1f77b4" stroke-width="2.08" stroke-linejoin="round" stroke-linecap="square"/><path d="M556.42 31.68l8.33 8.33m0 -8.33l-8.33 8.33M556.42 32.46l8.33 8.33m0 -8.33l-8.33 8.33M556.42 33.24l8.33 8.33m0 -8.33l-8.33 8.33M556.42 34.01l8.33 8.33m0 -8.33l-8.33 8.33M556.42 34.79l8.33 8.33m0 -8.33l-8.33 8.33M556.42 35.57l8.33 8.33m0 -8.33l-8.33 8.33M556.42 36.35l8.33 8.33m0 -8.33l-8.33 8.33M556.42 37.13l8.33 8.33m0 -8.33l-8.33 8.33M556.42 37.91l8.33 8.33m0 -8.33l-8.33 8.33M556.42 38.69l8.33 8.33m0 -8.33l-8.33 8.33M556.42 39.46l8.33 8.33m0 -8.33l-8.33 8.33M556.42 40.24l8.33 8.33m0 -8.33l-8.33 8.33M556.42 41.02l8.33 8.33m0 -8.33l-8.33 8.33M556.42 41.8l8.33 8.33m0 -8.33l-8.33 8.33M556.42 42.58l8.33 8.33m0 -8.33l-8.33 8.33M556.42 43.36l8.33 8.33m0 -8.33l-8.33 8.33M556.42 44.14l8.33 8.33m0 -8.33l-8.33 8.33M556.42 44.91l8.33 8.33m0 -8.33l-8.33 8.33M556.42 45.69l8.33 8.33m0 -8.33l-8.33 8.33M556.42 46.47l8.33 8.33m0 -8.33l-8.33 8.33M556.42 47.25l8.33 8.33m0 -8.33l-8.33 8.33M556.48 47.64l8.33 8.33m0 -8.33l-8.33 8.33M556.52 48.83l8.33 8.33m0 -8.33l-8.33 8.33M556.53 49.07l8.33 8.33m0 -8.33l-8.33 8.33M556.54 49.32l8.33 8.33m0 -8.33l-8.33 8.33M556.55 49.57l8.33 8.33m0 -8.33l-8.33 8.33M556.6 51.07l8.33 8.33m0 -8.33l-8.33 8.33M556.65 52.31l8.33 8.33m0 -8.33l-8.33 8.33M556.69 53.43l8.33 8.33m0 -8.33l-8.33 8.33M556.7 53.67l8.33 8.33m0 -8.33l-8.33 8.33M556.71 53.93l8.33 8.33m0 -8.33l-8.33 8.33M556.73 54.17l8.33 8.33m0 -8.33l-8.33 8.33M556.81 54.84l8.33 8.33m0 -8.33l-8.33 8.33M556.91 55.67l8.33 8.33m0 -8.33l-8.33 8.33M556.98 56.25l8.33 8.33m0 -8.33l-8.33 8.33M557.04 56.72l8.33 8.33m0 -8.33l-8.33 8.33M557.11 57.31l8.33 8.33m0 -8.33l-8.33 8.33M557.26 58.55l8.33 8.33m0 -8.33l-8.33 8.33M557.43 59.87l8.33 8.33m0 -8.33l-8.33 8.33M557.56 60.45l8.33 8.33m0 -8.33l-8.33 8.33M557.63 60.8l8.33 8.33m0 -8.33l-8.33 8.33M557.93 62.21l8.33 8.33m0 -8.33l-8.33 8.33M558.22 63.53l8.33 8.33m0 -8.33l-8.33 8.33M558.29 63.86l8.33 8.33m0 -8.33l-8.33 8.33M558.37 64.94l8.33 8.33m0 -8.33l-8.33 8.33M558.44 65.98l8.33 8.33m0 -8.33l-8.33 8.33M558.53 67.43l8.33 8.33m0 -8.33l-8.33 8.33M558.53 67.39l8.33 8.33m0 -8.33l-8.33 8.33M558.53 67.39l8.33 8.33m0 -8.33l-8.33 8.33M558.53 67.39l8.33 8.33m0 -8.33l-8.33 8.33M558.53 67.39l8.33 8.33m0 -8.33l-8.33 8.33M558.53 67.39l8.33 8.33m0 -8.33l-8.33 8.33M558.8 68.06l8.33 8.33m0 -8.33l-8.33 8.33M559.13 69.38l8.33 8.33m0 -8.33l-8.33 8.33M558.81 70.88l8.33 8.33m0 -8.33l-8.33 8.33M558.78 71.21l8.33 8.33m0 -8.33l-8.33 8.33M559.12 73.29l8.33 8.33m0 -8.33l-8.33 8.33M559.21 74.11l8.33 8.33m0 -8.33l-8.33 8.33M559.19 74.61l8.33 8.33m0 -8.33l-8.33 8.33M559.18 74.95l8.33 8.33m0 -8.33l-8.33 8.33M559.15 75.61l8.33 8.33m0 -8.33l-8.33 8.33M559.1 76.85l8.33 8.33m0 -8.33l-8.33 8.33M559.06 77.84l8.33 8.33m0 -8.33l-8.33 8.33M559.05 78.06l8.33 8.33m0 -8.33l-8.33 8.33M559.05 78.26l8.33 8.33m0 -8.33l-8.33 8.33M559.04 78.43l8.33 8.33m0 -8.33l-8.33 8.33M559 79.34l8.33 8.33m0 -8.33l-8.33 8.33M559.09 80.66l8.33 8.33m0 -8.33l-8.33 8.33M559.17 81.53l8.33 8.33m0 -8.33l-8.33 8.33M559.17 81.55l8.33 8.33m0 -8.33l-8.33 8.33M559.17 81.56l8.33 8.33m0 -8.33l-8.33 8.33M559.17 81.53l8.33 8.33m0 -8.33l-8.33 8.33M559.17 81.55l8.33 8.33m0 -8.33l-8.33 8.33M559.17 81.56l8.33 8.33m0 -8.33l-8.33 8.33M559.17 81.53l8.33 8.33m0 -8.33l-8.33 8.33M559.17 81.55l8.33 8.33m0 -8.33l-8.33 8.33M559.15 81.33l8.33 8.33m0 -8.33l-8.33 8.33M559.17 81.83l8.33 8.33m0 -8.33l-8.33 8.33M560.44 82.12l8.33 8.33m0 -8.33l-8.33 8.33M561.78 83.16l8.33 8.33m0 -8.33l-8.33 8.33M562.43 84.2l8.33 8.33m0 -8.33l-8.33 8.33M563.21 85.25l8.33 8.33m0 -8.33l-8.33 8.33M564.63 86.29l8.33 8.33m0 -8.33l-8.33 8.33M566.91 87.34l8.33 8.33m0 -8.33l-8.33 8.33M571.21 88.38l8.33 8.33m0 -8.33l-8.33 8.33M561.03 82.33l8.33 8.33m0 -8.33l-8.33 8.33M562.42 83.37l8.33 8.33m0 -8.33l-8.33 8.33M562.54 84.42l8.33 8.33m0 -8.33l-8.33 8.33M563.42 85.46l8.33 8.33m0 -8.33l-8.33 8.33M565.08 86.51l8.33 8.33m0 -8.33l-8.33 8.33M567.43 87.55l8.33 8.33m0 -8.33l-8.33 8.33M570.04 88.6l8.33 8.33m0 -8.33l-8.33 8.33M560.88 82.26l8.33 8.33m0 -8.33l-8.33 8.33M561.91 83.31l8.33 8.33m0 -8.33l-8.33 8.33M562.52 84.37l8.33 8.33m0 -8.33l-8.33 8.33M563.39 85.43l8.33 8.33m0 -8.33l-8.33 8.33M565.03 86.48l8.33 8.33m0 -8.33l-8.33 8.33M567.41 87.54l8.33 8.33m0 -8.33l-8.33 8.33M570.04 88.6l8.33 8.33m0 -8.33l-8.33 8.33M561.03 82.33l8.33 8.33m0 -8.33l-8.33 8.33M562.39 83.35l8.33 8.33m0 -8.33l-8.33 8.33M562.52 84.37l8.33 8.33m0 -8.33l-8.33 8.33M563.35 85.39l8.33 8.33m0 -8.33l-8.33 8.33M564.88 86.41l8.33 8.33m0 -8.33l-8.33 8.33M567.14 87.43l8.33 8.33m0 -8.33l-8.33 8.33M569.66 88.45l8.33 8.33m0 -8.33l-8.33 8.33M561.33 82.47l8.33 8.33m0 -8.33l-8.33 8.33M562.51 83.45l8.33 8.33m0 -8.33l-8.33 8.33M562.55 84.44l8.33 8.33m0 -8.33l-8.33 8.33M563.38 85.42l8.33 8.33m0 -8.33l-8.33 8.33M564.86 86.4l8.33 8.33m0 -8.33l-8.33 8.33M567.03 87.38l8.33 8.33m0 -8.33l-8.33 8.33M561.72 82.9l8.33 8.33m0 -8.33l-8.33 8.33M572.7 86.35l8.33 8.33m0 -8.33l-8.33 8.33M581.15 87.81l8.33 8.33m0 -8.33l-8.33 8.33M574.07 86.36l8.33 8.33m0 -8.33l-8.33 8.33M561.86 83.04l8.33 8.33m0 -8.33l-8.33 8.33M559.81 82.19l8.33 8.33m0 -8.33l-8.33 8.33M570.64 82.37l8.33 8.33m0 -8.33l-8.33 8.33M604 85.65l8.33 8.33m0 -8.33l-8.33 8.33M620.9 87.37l8.33 8.33m0 -8.33l-8.33 8.33M633.19 88.5l8.33 8.33m0 -8.33l-8.33 8.33M654.3 90.62l8.33 8.33m0 -8.33l-8.33 8.33M666.96 91.84l8.33 8.33m0 -8.33l-8.33 8.33M667.73 92.16l8.33 8.33m0 -8.33l-8.33 8.33M668.19 92.37l8.33 8.33m0 -8.33l-8.33 8.33M668.65 92.58l8.33 8.33m0 -8.33l-8.33 8.33M668.88 92.8l8.33 8.33m0 -8.33l-8.33 8.33M669.11 92.94l8.33 8.33m0 -8.33l-8.33 8.33M669.56 93.15l8.33 8.33m0 -8.33l-8.33 8.33M671.53 94.43l8.33 8.33m0 -8.33l-8.33 8.33M673.4 96l8.33 8.33m0 -8.33l-8.33 8.33M674.82 97.28l8.33 8.33m0 -8.33l-8.33 8.33M676 98.78l8.33 8.33m0 -8.33l-8.33 8.33M678.56 98.74l8.33 8.33m0 -8.33l-8.33 8.33M680.71 98.74l8.33 8.33m0 -8.33l-8.33 8.33M682.9 98.74l8.33 8.33m0 -8.33l-8.33 8.33M685.33 99.42l8.33 8.33m0 -8.33l-8.33 8.33M686.79 100.84l8.33 8.33m0 -8.33l-8.33 8.33M687.29 101.27l8.33 8.33m0 -8.33l-8.33 8.33M688.8 102.27l8.33 8.33m0 -8.33l-8.33 8.33M690.4 103.55l8.33 8.33m0 -8.33l-8.33 8.33M691.59 104.97l8.33 8.33m0 -8.33l-8.33 8.33M691.72 105.06l8.33 8.33m0 -8.33l-8.33 8.33M692.54 106.4l8.33 8.33m0 -8.33l-8.33 8.33M693.92 107.82l8.33 8.33m0 -8.33l-8.33 8.33M695.29 109.1l8.33 8.33m0 -8.33l-8.33 8.33M695.42 109.22l8.33 8.33m0 -8.33l-8.33 8.33M696.75 110.67l8.33 8.33m0 -8.33l-8.33 8.33M698.16 112.05l8.33 8.33m0 -8.33l-8.33 8.33M699.08 112.95l8.33 8.33m0 -8.33l-8.33 8.33M699.35 113.16l8.33 8.33m0 -8.33l-8.33 8.33M701.32 114.87l8.33 8.33m0 -8.33l-8.33 8.33M702.46 116.17l8.33 8.33m0 -8.33l-8.33 8.33M703.33 116.51l8.33 8.33m0 -8.33l-8.33 8.33M704.47 117.22l8.33 8.33m0 -8.33l-8.33 8.33M706.75 118.7l8.33 8.33m0 -8.33l-8.33 8.33M708.17 119.63l8.33 8.33m0 -8.33l-8.33 8.33M708.44 119.93l8.33 8.33m0 -8.33l-8.33 8.33M709.91 121.35l8.33 8.33m0 -8.33l-8.33 8.33M713.52 123.72l8.33 8.33m0 -8.33l-8.33 8.33M715.45 125.1l8.33 8.33m0 -8.33l-8.33 8.33M718.35 127.18l8.33 8.33m0 -8.33l-8.33 8.33M721.25 129.25l8.33 8.33m0 -8.33l-8.33 8.33M723.18 130.64l8.33 8.33m0 -8.33l-8.33 8.33M725.4 132.37l8.33 8.33m0 -8.33l-8.33 8.33M727.81 134.44l8.33 8.33m0 -8.33l-8.33 8.33M730.03 136.34l8.33 8.33m0 -8.33l-8.33 8.33M732.64 138.59l8.33 8.33m0 -8.33l-8.33 8.33M734.7 140.67l8.33 8.33m0 -8.33l-8.33 8.33M735 141.27l8.33 8.33m0 -8.33l-8.33 8.33M736.03 143.35l8.33 8.33m0 -8.33l-8.33 8.33M736.33 143.96l8.33 8.33m0 -8.33l-8.33 8.33M737.28 145.86l8.33 8.33m0 -8.33l-8.33 8.33M738.14 147.59l8.33 8.33m0 -8.33l-8.33 8.33M739.17 149.67l8.33 8.33m0 -8.33l-8.33 8.33M739.86 151.05l8.33 8.33m0 -8.33l-8.33 8.33M740.55 152.43l8.33 8.33m0 -8.33l-8.33 8.33M741.67 154.68l8.33 8.33m0 -8.33l-8.33 8.33M742.61 156.59l8.33 8.33m0 -8.33l-8.33 8.33M743.45 158.66l8.33 8.33m0 -8.33l-8.33 8.33M744.19 160.74l8.33 8.33m0 -8.33l-8.33 8.33M744.88 162.64l8.33 8.33m0 -8.33l-8.33 8.33M745.56 164.54l8.33 8.33m0 -8.33l-8.33 8.33M746.37 166.79l8.33 8.33m0 -8.33l-8.33 8.33M746.87 168.18l8.33 8.33m0 -8.33l-8.33 8.33M747.37 169.56l8.33 8.33m0 -8.33l-8.33 8.33M748.18 171.81l8.33 8.33m0 -8.33l-8.33 8.33M748.68 173.19l8.33 8.33m0 -8.33l-8.33 8.33M749.43 175.27l8.33 8.33m0 -8.33l-8.33 8.33M750.11 177.17l8.33 8.33m0 -8.33l-8.33 8.33M750.86 179.42l8.33 8.33m0 -8.33l-8.33 8.33M751.06 180.03l8.33 8.33m0 -8.33l-8.33 8.33M751.8 182.28l8.33 8.33m0 -8.33l-8.33 8.33M752.01 182.88l8.33 8.33m0 -8.33l-8.33 8.33M752.46 184.27l8.33 8.33m0 -8.33l-8.33 8.33M753.15 186.34l8.33 8.33m0 -8.33l-8.33 8.33M753.35 186.95l8.33 8.33m0 -8.33l-8.33 8.33M753.93 188.68l8.33 8.33m0 -8.33l-8.33 8.33M754.13 189.28l8.33 8.33m0 -8.33l-8.33 8.33M754.7 191.01l8.33 8.33m0 -8.33l-8.33 8.33M755.33 192.92l8.33 8.33m0 -8.33l-8.33 8.33M755.97 194.99l8.33 8.33m0 -8.33l-8.33 8.33M756.54 197.24l8.33 8.33m0 -8.33l-8.33 8.33M757.02 199.14l8.33 8.33m0 -8.33l-8.33 8.33M757.58 201.39l8.33 8.33m0 -8.33l-8.33 8.33M758.06 203.3l8.33 8.33m0 -8.33l-8.33 8.33M758.54 205.2l8.33 8.33m0 -8.33l-8.33 8.33M759.11 207.45l8.33 8.33m0 -8.33l-8.33 8.33M759.63 209.52l8.33 8.33m0 -8.33l-8.33 8.33M760.11 211.43l8.33 8.33m0 -8.33l-8.33 8.33M760.83 212.81l8.33 8.33m0 -8.33l-8.33 8.33M761.78 214.54l8.33 8.33m0 -8.33l-8.33 8.33M762.11 215.15l8.33 8.33m0 -8.33l-8.33 8.33M762.44 215.75l8.33 8.33m0 -8.33l-8.33 8.33M763.2 217.14l8.33 8.33m0 -8.33l-8.33 8.33M764.24 219.04l8.33 8.33m0 -8.33l-8.33 8.33M765 220.42l8.33 8.33m0 -8.33l-8.33 8.33M765.95 222.15l8.33 8.33m0 -8.33l-8.33 8.33M767.18 224.4l8.33 8.33m0 -8.33l-8.33 8.33M768.22 226.3l8.33 8.33m0 -8.33l-8.33 8.33M769.44 228.55l8.33 8.33m0 -8.33l-8.33 8.33M770.37 230.28l8.33 8.33m0 -8.33l-8.33 8.33M771.4 232.19l8.33 8.33m0 -8.33l-8.33 8.33M772.51 234.26l8.33 8.33m0 -8.33l-8.33 8.33M773.54 236.17l8.33 8.33m0 -8.33l-8.33 8.33M774.65 238.24l8.33 8.33m0 -8.33l-8.33 8.33M775.58 239.97l8.33 8.33m0 -8.33l-8.33 8.33M776.7 242.05l8.33 8.33m0 -8.33l-8.33 8.33M777.81 244.12l8.33 8.33m0 -8.33l-8.33 8.33M778.86 246.03l8.33 8.33m0 -8.33l-8.33 8.33M780.18 248.1l8.33 8.33m0 -8.33l-8.33 8.33M781.06 249.49l8.33 8.33m0 -8.33l-8.33 8.33M782.16 251.22l8.33 8.33m0 -8.33l-8.33 8.33M783.59 253.47l8.33 8.33m0 -8.33l-8.33 8.33M783.98 254.07l8.33 8.33m0 -8.33l-8.33 8.33M785.08 255.8l8.33 8.33m0 -8.33l-8.33 8.33M786.4 257.88l8.33 8.33m0 -8.33l-8.33 8.33M787.84 260.13l8.33 8.33m0 -8.33l-8.33 8.33M789.2 262.37l8.33 8.33m0 -8.33l-8.33 8.33M789.96 263.76l8.33 8.33m0 -8.33l-8.33 8.33M791.2 266.01l8.33 8.33m0 -8.33l-8.33 8.33M792.15 267.74l8.33 8.33m0 -8.33l-8.33 8.33M793.29 269.81l8.33 8.33m0 -8.33l-8.33 8.33M794.43 271.89l8.33 8.33m0 -8.33l-8.33 8.33M795.58 273.97l8.33 8.33m0 -8.33l-8.33 8.33M795.89 274.57l8.33 8.33m0 -8.33l-8.33 8.33M796.85 276.82l8.33 8.33m0 -8.33l-8.33 8.33M797.81 279.07l8.33 8.33m0 -8.33l-8.33 8.33M798.4 280.45l8.33 8.33m0 -8.33l-8.33 8.33M799.35 282.7l8.33 8.33m0 -8.33l-8.33 8.33M800.24 284.78l8.33 8.33m0 -8.33l-8.33 8.33M800.97 286.51l8.33 8.33m0 -8.33l-8.33 8.33M801.71 288.24l8.33 8.33m0 -8.33l-8.33 8.33M801.97 288.84l8.33 8.33m0 -8.33l-8.33 8.33M802.22 289.45l8.33 8.33m0 -8.33l-8.33 8.33M803.03 291.35l8.33 8.33m0 -8.33l-8.33 8.33M803.99 293.6l8.33 8.33m0 -8.33l-8.33 8.33M804.79 295.5l8.33 8.33m0 -8.33l-8.33 8.33M805.04 296.11l8.33 8.33m0 -8.33l-8.33 8.33M805.77 297.84l8.33 8.33m0 -8.33l-8.33 8.33M806.02 298.45l8.33 8.33m0 -8.33l-8.33 8.33M806.82 300.35l8.33 8.33m0 -8.33l-8.33 8.33M807.4 301.73l8.33 8.33m0 -8.33l-8.33 8.33M807.65 302.34l8.33 8.33m0 -8.33l-8.33 8.33M808.37 304.07l8.33 8.33m0 -8.33l-8.33 8.33M809.17 305.97l8.33 8.33m0 -8.33l-8.33 8.33M809.96 307.87l8.33 8.33m0 -8.33l-8.33 8.33M810.22 308.48l8.33 8.33m0 -8.33l-8.33 8.33M810.47 309.08l8.33 8.33m0 -8.33l-8.33 8.33M812.28 311.16l8.33 8.33m0 -8.33l-8.33 8.33M814.17 313.24l8.33 8.33m0 -8.33l-8.33 8.33M814.71 313.84l8.33 8.33m0 -8.33l-8.33 8.33M816.44 315.75l8.33 8.33m0 -8.33l-8.33 8.33M818.48 317.99l8.33 8.33m0 -8.33l-8.33 8.33M820.36 320.07l8.33 8.33m0 -8.33l-8.33 8.33M821.93 321.8l8.33 8.33m0 -8.33l-8.33 8.33M823.45 323.88l8.33 8.33m0 -8.33l-8.33 8.33M824.02 325.61l8.33 8.33m0 -8.33l-8.33 8.33M824.71 327.68l8.33 8.33m0 -8.33l-8.33 8.33M825.17 329.07l8.33 8.33m0 -8.33l-8.33 8.33M825.37 329.67l8.33 8.33m0 -8.33l-8.33 8.33M825.94 331.4l8.33 8.33m0 -8.33l-8.33 8.33M826.14 332.01l8.33 8.33m0 -8.33l-8.33 8.33M826.34 332.61l8.33 8.33m0 -8.33l-8.33 8.33M826.54 333.22l8.33 8.33m0 -8.33l-8.33 8.33M827.23 335.29l8.33 8.33m0 -8.33l-8.33 8.33M827.92 337.37l8.33 8.33m0 -8.33l-8.33 8.33M828.12 337.98l8.33 8.33m0 -8.33l-8.33 8.33M828.58 339.36l8.33 8.33m0 -8.33l-8.33 8.33M829.21 341.26l8.33 8.33m0 -8.33l-8.33 8.33M829.8 342.99l8.33 8.33m0 -8.33l-8.33 8.33M830.54 345.07l8.33 8.33m0 -8.33l-8.33 8.33M831.16 346.8l8.33 8.33m0 -8.33l-8.33 8.33M831.66 348.18l8.33 8.33m0 -8.33l-8.33 8.33M832.46 350.43l8.33 8.33m0 -8.33l-8.33 8.33M832.67 351.04l8.33 8.33m0 -8.33l-8.33 8.33M833.29 352.77l8.33 8.33m0 -8.33l-8.33 8.33M833.91 354.5l8.33 8.33m0 -8.33l-8.33 8.33M834.53 356.23l8.33 8.33m0 -8.33l-8.33 8.33M835.02 357.61l8.33 8.33m0 -8.33l-8.33 8.33M835.7 359.51l8.33 8.33m0 -8.33l-8.33 8.33M836.38 361.42l8.33 8.33m0 -8.33l-8.33 8.33M837.06 363.32l8.33 8.33m0 -8.33l-8.33 8.33M837.8 365.4l8.33 8.33m0 -8.33l-8.33 8.33M838.48 367.3l8.33 8.33m0 -8.33l-8.33 8.33M839.28 369.55l8.33 8.33m0 -8.33l-8.33 8.33M840.02 371.62l8.33 8.33m0 -8.33l-8.33 8.33M840.82 373.87l8.33 8.33m0 -8.33l-8.33 8.33M841.56 375.95l8.33 8.33m0 -8.33l-8.33 8.33M841.78 376.55l8.33 8.33m0 -8.33l-8.33 8.33M842.52 378.63l8.33 8.33m0 -8.33l-8.33 8.33M843.25 380.71l8.33 8.33m0 -8.33l-8.33 8.33M843.86 382.44l8.33 8.33m0 -8.33l-8.33 8.33M844.54 384.34l8.33 8.33m0 -8.33l-8.33 8.33M845.33 386.59l8.33 8.33m0 -8.33l-8.33 8.33M846.13 388.84l8.33 8.33m0 -8.33l-8.33 8.33M846.93 391.09l8.33 8.33m0 -8.33l-8.33 8.33M847.42 392.47l8.33 8.33m0 -8.33l-8.33 8.33M848.03 394.2l8.33 8.33m0 -8.33l-8.33 8.33M848.7 396.1l8.33 8.33m0 -8.33l-8.33 8.33M849.32 397.83l8.33 8.33m0 -8.33l-8.33 8.33M850.05 399.91l8.33 8.33m0 -8.33l-8.33 8.33M850.66 401.64l8.33 8.33m0 -8.33l-8.33 8.33M851.4 403.72l8.33 8.33m0 -8.33l-8.33 8.33M852.01 405.45l8.33 8.33m0 -8.33l-8.33 8.33M852.23 406.05l8.33 8.33m0 -8.33l-8.33 8.33M852.9 407.95l8.33 8.33m0 -8.33l-8.33 8.33M853.64 410.03l8.33 8.33m0 -8.33l-8.33 8.33M854.25 411.76l8.33 8.33m0 -8.33l-8.33 8.33M854.46 412.37l8.33 8.33m0 -8.33l-8.33 8.33M855.14 414.27l8.33 8.33m0 -8.33l-8.33 8.33M855.87 416.34l8.33 8.33m0 -8.33l-8.33 8.33M856.61 418.42l8.33 8.33m0 -8.33l-8.33 8.33M857.4 420.67l8.33 8.33m0 -8.33l-8.33 8.33M857.82 422.05l8.33 8.33m0 -8.33l-8.33 8.33M857.98 422.66l8.33 8.33m0 -8.33l-8.33 8.33M858.61 424.91l8.33 8.33m0 -8.33l-8.33 8.33M859.23 427.16l8.33 8.33m0 -8.33l-8.33 8.33M859.71 428.89l8.33 8.33m0 -8.33l-8.33 8.33M860.24 430.79l8.33 8.33m0 -8.33l-8.33 8.33M860.72 432.52l8.33 8.33m0 -8.33l-8.33 8.33M861.34 434.77l8.33 8.33m0 -8.33l-8.33 8.33M861.82 436.5l8.33 8.33m0 -8.33l-8.33 8.33M862.4 438.58l8.33 8.33m0 -8.33l-8.33 8.33M863.02 440.82l8.33 8.33m0 -8.33l-8.33 8.33M863.5 442.55l8.33 8.33m0 -8.33l-8.33 8.33M864.12 444.8l8.33 8.33m0 -8.33l-8.33 8.33M864.65 446.71l8.33 8.33m0 -8.33l-8.33 8.33M864.82 447.31l8.33 8.33m0 -8.33l-8.33 8.33M865.4 449.39l8.33 8.33m0 -8.33l-8.33 8.33M865.56 449.99l8.33 8.33m0 -8.33l-8.33 8.33M866.19 452.24l8.33 8.33m0 -8.33l-8.33 8.33M866.36 452.85l8.33 8.33m0 -8.33l-8.33 8.33M866.83 454.58l8.33 8.33m0 -8.33l-8.33 8.33M867.31 456.31l8.33 8.33m0 -8.33l-8.33 8.33M867.94 458.56l8.33 8.33m0 -8.33l-8.33 8.33M868.47 460.46l8.33 8.33m0 -8.33l-8.33 8.33M868.95 462.19l8.33 8.33m0 -8.33l-8.33 8.33M869.52 464.27l8.33 8.33m0 -8.33l-8.33 8.33M870.1 466.34l8.33 8.33m0 -8.33l-8.33 8.33M870.62 468.07l8.33 8.33m0 -8.33l-8.33 8.33M871.04 469.46l8.33 8.33m0 -8.33l-8.33 8.33M871.58 471.19l8.33 8.33m0 -8.33l-8.33 8.33M872.01 472.57l8.33 8.33m0 -8.33l-8.33 8.33M872.54 474.3l8.33 8.33m0 -8.33l-8.33 8.33M873.08 476.03l8.33 8.33m0 -8.33l-8.33 8.33M873.72 478.11l8.33 8.33m0 -8.33l-8.33 8.33M874.25 479.84l8.33 8.33m0 -8.33l-8.33 8.33M874.79 481.57l8.33 8.33m0 -8.33l-8.33 8.33M875.38 483.47l8.33 8.33m0 -8.33l-8.33 8.33M875.56 484.07l8.33 8.33m0 -8.33l-8.33 8.33M875.75 484.68l8.33 8.33m0 -8.33l-8.33 8.33M876.39 486.76l8.33 8.33m0 -8.33l-8.33 8.33M877.09 489l8.33 8.33m0 -8.33l-8.33 8.33M877.78 491.25l8.33 8.33m0 -8.33l-8.33 8.33M878.21 492.64l8.33 8.33m0 -8.33l-8.33 8.33M878.74 494.37l8.33 8.33m0 -8.33l-8.33 8.33M879.39 496.44l8.33 8.33m0 -8.33l-8.33 8.33M879.81 497.83l8.33 8.33m0 -8.33l-8.33 8.33M880.49 500.08l8.33 8.33m0 -8.33l-8.33 8.33M880.89 501.81l8.33 8.33m0 -8.33l-8.33 8.33M881.2 503.19l8.33 8.33m0 -8.33l-8.33 8.33M881.6 504.92l8.33 8.33m0 -8.33l-8.33 8.33M881.92 506.3l8.33 8.33m0 -8.33l-8.33 8.33M882.44 508.55l8.33 8.33m0 -8.33l-8.33 8.33M882.87 510.46l8.33 8.33m0 -8.33l-8.33 8.33M883.39 512.71l8.33 8.33m0 -8.33l-8.33 8.33M883.91 514.95l8.33 8.33m0 -8.33l-8.33 8.33M884.04 515.56l8.33 8.33m0 -8.33l-8.33 8.33M884.18 516.17l8.33 8.33m0 -8.33l-8.33 8.33M884.66 518.24l8.33 8.33m0 -8.33l-8.33 8.33M885.06 519.97l8.33 8.33m0 -8.33l-8.33 8.33M885.45 521.7l8.33 8.33m0 -8.33l-8.33 8.33M885.97 523.95l8.33 8.33m0 -8.33l-8.33 8.33M886.29 525.33l8.33 8.33m0 -8.33l-8.33 8.33M886.73 527.24l8.33 8.33m0 -8.33l-8.33 8.33M887.04 528.62l8.33 8.33m0 -8.33l-8.33 8.33M887.18 529.23l8.33 8.33m0 -8.33l-8.33 8.33M887.58 530.96l8.33 8.33m0 -8.33l-8.33 8.33M888.07 533.21l8.33 8.33m0 -8.33l-8.33 8.33M888.38 535.46l8.33 8.33m0 -8.33l-8.33 8.33M888.58 536.84l8.33 8.33m0 -8.33l-8.33 8.33M888.86 538.92l8.33 8.33m0 -8.33l-8.33 8.33M889.13 540.82l8.33 8.33m0 -8.33l-8.33 8.33M889.37 542.55l8.33 8.33m0 -8.33l-8.33 8.33M889.56 543.93l8.33 8.33m0 -8.33l-8.33 8.33M889.65 544.54l8.33 8.33m0 -8.33l-8.33 8.33M889.73 545.14l8.33 8.33m0 -8.33l-8.33 8.33M890.02 547.22l8.33 8.33m0 -8.33l-8.33 8.33M890.21 548.6l8.33 8.33m0 -8.33l-8.33 8.33M890.45 550.33l8.33 8.33m0 -8.33l-8.33 8.33M890.74 552.41l8.33 8.33m0 -8.33l-8.33 8.33M890.93 553.79l8.33 8.33m0 -8.33l-8.33 8.33M891.18 555.52l8.33 8.33m0 -8.33l-8.33 8.33" fill="none" stroke="#1f77b4" stroke-width="1.39"/><circle cx="576.87" cy="90.51" r="4.65" fill="#ff0000"/><circle cx="585.32" cy="91.98" r="4.65" fill="#ff0000"/><circle cx="578.24" cy="90.53" r="4.65" fill="#ff0000"/><circle cx="574.81" cy="86.54" r="4.65" fill="#ff0000"/><circle cx="608.16" cy="89.81" r="4.65" fill="#ff0000"/><circle cx="625.07" cy="91.54" r="4.65" fill="#ff0000"/></g>
<g clip-path="url(#c20)"><polyline points="1015.23,35.85 1015.23,36.62 1015.23,37.4 1015.23,38.18 1015.23,38.96 1015.23,39.74 1015.23,40.52 1015.23,41.3 1015.23,42.07 1015.23,42.85 1015.23,43.63 1015.23,44.41 1015.23,45.19 1015.23,45.97 1015.23,46.75 1015.23,47.52 1015.23,48.3 1015.23,49.08 1015.23,49.86 1015.23,50.64 1015.23,51.42 1015.32,51.8 1015.32,53 1015.32,53.24 1015.32,53.48 1015.32,53.74 1015.32,55.24 1015.42,56.47 1015.51,57.6 1015.66,57.84 1015.96,58.1 1016.04,58.34 1016.09,59.01 1016.16,59.84 1016.21,60.42 1016.24,60.89 1016.29,61.47 1016.39,62.71 1016.49,64.04 1016.69,64.62 1017.35,64.96 1017.43,66.37 1017.52,67.7 1017.54,68.02 1017.54,69.11 1017.54,70.15 1017.8,71.6 1017.61,71.56 1017.61,71.56 1017.61,71.56 1017.61,71.56 1017.61,71.56 1018.19,72.23 1018.17,73.55 1018.16,75.05 1018.15,75.37 1018.13,77.45 1018.12,78.28 1018.11,78.78 1018.1,79.12 1018.1,79.77 1018.08,81.01 1018.07,82.01 1018.07,82.22 1018.06,82.42 1018.06,82.59 1018.05,83.5 1018.13,84.83 1018.21,85.7 1018.2,85.71 1018.19,85.73 1018.17,85.7 1018.16,85.71 1018.15,85.73 1018.14,85.7 1018.12,85.71 1018.18,85.5 1018.04,86 1019.39,86.28 1020.82,87.33 1021.51,88.37 1022.34,89.42 1023.86,90.46 1026.33,91.5 1031,92.55 1020.01,86.5 1021.5,87.54 1021.61,88.58 1022.55,89.63 1024.33,90.67 1026.87,91.72 1029.68,92.76 1019.83,86.42 1020.93,87.48 1021.56,88.54 1022.47,89.59 1024.24,90.65 1026.79,91.71 1029.63,92.76 1019.99,86.5 1021.45,87.52 1021.56,88.54 1022.44,89.56 1024.09,90.58 1026.53,91.6 1029.24,92.62 1020.32,86.64 1021.56,87.62 1021.58,88.6 1022.45,89.59 1024.02,90.57 1026.35,91.55 1020.78,87.07 1032.54,90.51 1041.77,91.98 1034.04,90.53 1020.93,87.21 1018.72,86.35 1030.52,86.54 1066.94,89.81 1085.4,91.54 1098.82,92.66 1121.88,94.78 1135.72,96.01 1136.31,96.32 1136.74,96.54 1137.16,96.75 1137.59,96.96 1137.87,97.11 1138.3,97.32 1140.85,98.6 1143.23,100.17 1144.68,101.45 1146.27,102.94 1148.94,102.9 1151.19,102.9 1153.49,102.9 1156.82,103.59 1158.74,105.01 1159.31,105.44 1160.66,106.43 1162.18,107.72 1163.67,109.14 1163.76,109.23 1165.17,110.56 1166.66,111.99 1168.28,113.27 1168.4,113.38 1169.89,114.84 1171.32,116.22 1172.24,117.12 1172.46,117.33 1174.22,119.04 1175.73,120.33 1176.46,120.68 1177.99,121.39 1181.17,122.87 1182.95,123.79 1183.32,124.09 1185.11,125.52 1186.9,127.88 1188.31,129.27 1192.08,131.34 1195.85,133.42 1198.37,134.8 1201.32,136.53 1204.6,138.61 1207.62,140.51 1211.18,142.76 1212.38,144.84 1212.69,145.44 1213.74,147.52 1214.05,148.12 1215.01,150.03 1215.89,151.76 1216.94,153.83 1217.64,155.22 1218.35,156.6 1219.32,158.85 1220.11,160.75 1220.96,162.83 1221.82,164.9 1222.61,166.81 1223.39,168.71 1224.32,170.96 1224.89,172.34 1225.46,173.73 1226.35,175.98 1226.88,177.36 1227.69,179.44 1228.42,181.34 1229.3,183.59 1229.53,184.19 1230.4,186.44 1230.63,187.05 1231.17,188.43 1231.97,190.51 1232.21,191.11 1232.88,192.84 1233.12,193.45 1233.81,195.18 1234.58,197.08 1235.41,199.16 1236.31,201.41 1237.08,203.31 1237.98,205.56 1238.69,207.46 1239.15,209.36 1239.7,211.61 1240.2,213.69 1240.67,215.59 1241,216.98 1241.45,218.71 1241.76,219.31 1242.06,219.92 1242.76,221.3 1243.72,223.2 1244.41,224.59 1245.28,226.32 1246.41,228.57 1247.37,230.47 1248.5,232.72 1249.37,234.45 1250.25,236.35 1251.04,238.43 1251.77,240.33 1252.56,242.41 1253.22,244.14 1254.01,246.21 1254.81,248.29 1255.53,250.19 1256.32,252.27 1256.85,253.65 1257.65,255.38 1258.78,257.63 1259.08,258.24 1259.95,259.97 1261,262.04 1262.13,264.29 1263.26,266.54 1263.96,267.93 1265.05,270.17 1265.87,271.9 1266.86,273.98 1267.84,276.06 1268.83,278.13 1269.12,278.74 1270.19,280.99 1271.26,283.24 1271.92,284.62 1272.99,286.87 1273.97,288.94 1274.79,290.67 1275.62,292.4 1275.9,293.01 1276.03,293.62 1276.44,295.52 1276.92,297.77 1277.32,299.67 1277.45,300.28 1277.82,302.01 1277.95,302.61 1278.36,304.51 1278.65,305.9 1278.78,306.5 1279.15,308.23 1279.56,310.14 1280.46,312.04 1280.83,312.65 1281.2,313.25 1282.47,315.33 1283.74,317.4 1284.11,318.01 1285.27,319.91 1286.65,322.16 1287.91,324.24 1288.97,325.97 1290.24,328.04 1291.3,329.77 1292.57,331.85 1293.41,333.23 1293.73,333.84 1294.17,335.57 1294.32,336.17 1294.47,336.78 1294.62,337.38 1295.14,339.46 1295.66,341.54 1295.81,342.14 1296.16,343.53 1296.63,345.43 1297.06,347.16 1297.58,349.24 1298.02,350.97 1298.36,352.35 1298.94,354.6 1299.1,355.2 1299.57,356.93 1300.04,358.66 1300.51,360.39 1300.89,361.78 1301.41,363.68 1301.93,365.58 1302.45,367.49 1303.01,369.56 1303.53,371.47 1304.14,373.71 1304.71,375.79 1305.32,378.04 1305.89,380.12 1306.05,380.72 1306.65,382.8 1307.3,384.87 1307.84,386.6 1308.43,388.51 1309.13,390.76 1309.83,393 1310.54,395.25 1310.97,396.64 1311.51,398.37 1312.1,400.27 1312.64,402 1313.29,404.08 1313.83,405.81 1314.48,407.88 1315.02,409.61 1315.21,410.22 1315.8,412.12 1316.45,414.2 1316.99,415.93 1317.18,416.53 1317.77,418.44 1318.42,420.51 1319.06,422.59 1319.69,424.84 1320.08,426.22 1320.25,426.83 1320.87,429.07 1321.5,431.32 1321.98,433.05 1322.51,434.96 1322.99,436.69 1323.61,438.94 1324.09,440.67 1324.67,442.74 1325.29,444.99 1325.78,446.72 1326.4,448.97 1326.93,450.87 1327.1,451.48 1327.67,453.55 1327.84,454.16 1328.47,456.41 1328.64,457.01 1329.12,458.74 1329.6,460.47 1330.22,462.72 1330.75,464.63 1331.23,466.36 1331.81,468.43 1332.38,470.51 1332.86,472.24 1333.24,473.62 1333.71,475.35 1334.09,476.74 1334.57,478.47 1335.04,480.2 1335.61,482.27 1336.09,484 1336.57,485.73 1337.09,487.64 1337.26,488.24 1337.42,488.85 1337.99,490.92 1338.61,493.17 1339.23,495.42 1339.58,496.8 1339.93,498.53 1340.34,500.61 1340.62,501.99 1341.06,504.24 1341.41,505.97 1341.69,507.36 1342.03,509.09 1342.31,510.47 1342.76,512.72 1343.14,514.62 1343.58,516.87 1344.03,519.12 1344.15,519.73 1344.27,520.33 1344.69,522.41 1345.03,524.14 1345.38,525.87 1345.83,528.12 1346.1,529.5 1346.48,531.4 1346.76,532.79 1346.88,533.39 1347.2,535.12 1347.58,537.37 1347.95,539.62 1348.18,541.01 1348.52,543.08 1348.84,544.99 1349.13,546.72 1349.36,548.1 1349.46,548.7 1349.56,549.31 1349.9,551.39 1350.13,552.77 1350.42,554.5 1350.76,556.58 1350.99,557.96 1351.25,559.69" fill="none" stroke="#1f77b4" stroke-width="2.08" stroke-linejoin="round" stroke-linecap="square"/><polyline points="1015.23,35.85 1015.23,36.62 1015.23,37.4 1015.23,38.18 1015.23,38.96 1015.23,39.74 1015.23,40.52 1015.23,41.3 1015.23,42.07 1015.23,42.85 1015.23,43.63 1015.23,44.41 1015.23,45.19 1015.23,45.97 1015.23,46.75 1015.23,47.52 1015.23,48.3 1015.23,49.08 1015.23,49.86 1015.23,50.64 1015.23,51.42 1015.32,51.8 1015.32,53 1015.32,53.24 1015.32,53.48 1015.32,53.74 1015.32,55.24 1015.42,56.47 1015.51,57.6 1015.66,57.84 1015.96,58.1 1016.04,58.34 1016.09,59.01 1016.16,59.84 1016.21,60.42 1016.24,60.89 1016.29,61.47 1016.39,62.71 1016.49,64.04 1016.69,64.62 1017.35,64.96 1017.43,66.37 1017.52,67.7 1017.54,68.02 1017.54,69.11 1017.54,70.15 1017.8,71.6 1017.61,71.56 1017.61,71.56 1017.61,71.56 1017.61,71.56 1017.61,71.56 1018.19,72.23 1018.17,73.55 1018.16,75.05 1018.15,75.37 1018.13,77.45 1018.12,78.28 1018.11,78.78 1018.1,79.12 1018.1,79.77 1018.08,81.01 1018.07,82.01 1018.07,82.22 1018.06,82.42 1018.06,82.59 1018.05,83.5 1018.13,84.83 1018.21,85.7 1018.2,85.71 1018.19,85.73 1018.17,85.7 1018.16,85.71 1018.15,85.73 1018.14,85.7 1018.12,85.71 1018.18,85.5 1018.04,86 1019.39,86.28 1020.82,87.33 1021.51,88.37 1022.34,89.42 1023.86,90.46 1026.33,91.5 1031,92.55 1020.01,86.5 1021.5,87.54 1021.61,88.58 1022.55,89.63 1024.33,90.67 1026.87,91.72 1029.68,92.76 1019.83,86.42 1020.93,87.48 1021.56,88.54 1022.47,89.59 1024.24,90.65 1026.79,91.71 1029.63,92.76 1019.99,86.5 1021.45,87.52 1021.56,88.54 1022.44,89.56 1024.09,90.58 1026.53,91.6 1029.24,92.62 1020.32,86.64 1021.56,87.62 1021.58,88.6 1022.45,89.59 1024.02,90.57 1026.35,91.55 1020.78,87.07" fill="none" stroke="#bf00bf" stroke-width="2.08" stroke-linejoin="round" stroke-linecap="butt" stroke-dasharray="7.71 3.33"/><polyline points="1020.93,87.21 1018.72,86.35" fill="none" stroke="#bf00bf" stroke-width="2.08" stroke-linejoin="round" stroke-linecap="butt" stroke-dasharray="7.71 3.33"/><polyline points="1098.82,92.66 1121.88,94.78 1135.72,96.01 1136.31,96.32 1136.74,96.54 1137.16,96.75 1137.59,96.96 1137.87,97.11 1138.3,97.32 1140.85,98.6 1143.23,100.17 1144.68,101.45 1146.27,102.94 1148.94,102.9 1151.19,102.9 1153.49,102.9 1156.82,103.59 1158.74,105.01 1159.31,105.44 1160.66,106.43 1162.18,107.72 1163.67,109.14 1163.76,109.23 1165.17,110.56 1166.66,111.99 1168.28,113.27 1168.4,113.38 1169.89,114.84 1171.32,116.22 1172.24,117.12 1172.46,117.33 1174.22,119.04 1175.73,120.33 1176.46,120.68 1177.99,121.39 1181.17,122.87 1182.95,123.79 1183.32,124.09 1185.11,125.52 1186.9,127.88 1188.31,129.27 1192.08,131.34 1195.85,133.42 1198.37,134.8 1201.32,136.53 1204.6,138.61 1207.62,140.51 1211.18,142.76 1212.38,144.84 1212.69,145.44 1213.74,147.52 1214.05,148.12 1215.01,150.03 1215.89,151.76 1216.94,153.83 1217.64,155.22 1218.35,156.6 1219.32,158.85 1220.11,160.75 1220.96,162.83 1221.82,164.9 1222.61,166.81 1223.39,168.71 1224.32,170.96 1224.89,172.34 1225.46,173.73 1226.35,175.98 1226.88,177.36 1227.69,179.44 1228.42,181.34 1229.3,183.59 1229.53,184.19 1230.4,186.44 1230.63,187.05 1231.17,188.43 1231.97,190.51 1232.21,191.11 1232.88,192.84 1233.12,193.45 1233.81,195.18 1234.58,197.08 1235.41,199.16 1236.31,201.41 1237.08,203.31 1237.98,205.56 1238.69,207.46 1239.15,209.36 1239.7,211.61 1240.2,213.69 1240.67,215.59 1241,216.98 1241.45,218.71 1241.76,219.31 1242.06,219.92 1242.76,221.3 1243.72,223.2 1244.41,224.59 1245.28,226.32 1246.41,228.57 1247.37,230.47 1248.5,232.72 1249.37,234.45 1250.25,236.35 1251.04,238.43 1251.77,240.33 1252.56,242.41 1253.22,244.14 1254.01,246.21 1254.81,248.29 1255.53,250.19 1256.32,252.27 1256.85,253.65 1257.65,255.38 1258.78,257.63 1259.08,258.24 1259.95,259.97 1261,262.04 1262.13,264.29 1263.26,266.54 1263.96,267.93 1265.05,270.17 1265.87,271.9 1266.86,273.98 1267.84,276.06 1268.83,278.13 1269.12,278.74 1270.19,280.99 1271.26,283.24 1271.92,284.62 1272.99,286.87 1273.97,288.94 1274.79,290.67 1275.62,292.4 1275.9,293.01 1276.03,293.62 1276.44,295.52 1276.92,297.77 1277.32,299.67 1277.45,300.28 1277.82,302.01 1277.95,302.61 1278.36,304.51 1278.65,305.9 1278.78,306.5 1279.15,308.23 1279.56,310.14 1280.46,312.04 1280.83,312.65 1281.2,313.25 1282.47,315.33 1283.74,317.4 1284.11,318.01 1285.27,319.91 1286.65,322.16 1287.91,324.24 1288.97,325.97 1290.24,328.04 1291.3,329.77 1292.57,331.85 1293.41,333.23 1293.73,333.84 1294.17,335.57 1294.32,336.17 1294.47,336.78 1294.62,337.38 1295.14,339.46 1295.66,341.54 1295.81,342.14 1296.16,343.53 1296.63,345.43 1297.06,347.16 1297.58,349.24 1298.02,350.97 1298.36,352.35 1298.94,354.6 1299.1,355.2 1299.57,356.93 1300.04,358.66 1300.51,360.39 1300.89,361.78 1301.41,363.68 1301.93,365.58 1302.45,367.49 1303.01,369.56 1303.53,371.47 1304.14,373.71 1304.71,375.79 1305.32,378.04 1305.89,380.12 1306.05,380.72 1306.65,382.8 1307.3,384.87 1307.84,386.6 1308.43,388.51 1309.13,390.76 1309.83,393 1310.54,395.25 1310.97,396.64 1311.51,398.37 1312.1,400.27 1312.64,402 1313.29,404.08 1313.83,405.81 1314.48,407.88 1315.02,409.61 1315.21,410.22 1315.8,412.12 1316.45,414.2 1316.99,415.93 1317.18,416.53 1317.77,418.44 1318.42,420.51 1319.06,422.59 1319.69,424.84 1320.08,426.22 1320.25,426.83 1320.87,429.07 1321.5,431.32 1321.98,433.05 1322.51,434.96 1322.99,436.69 1323.61,438.94 1324.09,440.67 1324.67,442.74 1325.29,444.99 1325.78,446.72 1326.4,448.97 1326.93,450.87 1327.1,451.48 1327.67,453.55 1327.84,454.16 1328.47,456.41 1328.64,457.01 1329.12,458.74 1329.6,460.47 1330.22,462.72 1330.75,464.63 1331.23,466.36 1331.81,468.43 1332.38,470.51 1332.86,472.24 1333.24,473.62 1333.71,475.35 1334.09,476.74 1334.57,478.47 1335.04,480.2 1335.61,482.27 1336.09,484 1336.57,485.73 1337.09,487.64 1337.26,488.24 1337.42,488.85 1337.99,490.92 1338.61,493.17 1339.23,495.42 1339.58,496.8 1339.93,498.53 1340.34,500.61 1340.62,501.99 1341.06,504.24 1341.41,505.97 1341.69,507.36 1342.03,509.09 1342.31,510.47 1342.76,512.72 1343.14,514.62 1343.58,516.87 1344.03,519.12 1344.15,519.73 1344.27,520.33 1344.69,522.41 1345.03,524.14 1345.38,525.87 1345.83,528.12 1346.1,529.5 1346.48,531.4 1346.76,532.79 1346.88,533.39 1347.2,535.12 1347.58,537.37 1347.95,539.62 1348.18,541.01 1348.52,543.08 1348.84,544.99 1349.13,546.72 1349.36,548.1 1349.46,548.7 1349.56,549.31 1349.9,551.39 1350.13,552.77 1350.42,554.5 1350.76,556.58 1350.99,557.96 1351.25,559.69" fill="none" stroke="#bf00bf" stroke-width="2.08" stroke-linejoin="round" stroke-linecap="butt" stroke-dasharray="7.71 3.33"/><path d="M1015.23 31.5l4.6 9.3h-9.2zM1015.23 32.27l4.6 9.3h-9.2zM1015.23 33.05l4.6 9.3h-9.2zM1015.23 33.83l4.6 9.3h-9.2zM1015.23 34.61l4.6 9.3h-9.2zM1015.23 35.39l4.6 9.3h-9.2zM1015.23 36.17l4.6 9.3h-9.2zM1015.23 36.95l4.6 9.3h-9.2zM1015.23 37.72l4.6 9.3h-9.2zM1015.23 38.5l4.6 9.3h-9.2zM1015.23 39.28l4.6 9.3h-9.2zM1015.23 40.06l4.6 9.3h-9.2zM1015.23 40.84l4.6 9.3h-9.2zM1015.23 41.62l4.6 9.3h-9.2zM1015.23 42.4l4.6 9.3h-9.2zM1015.23 43.17l4.6 9.3h-9.2zM1015.23 43.95l4.6 9.3h-9.2zM1015.23 44.73l4.6 9.3h-9.2zM1015.23 45.51l4.6 9.3h-9.2zM1015.23 46.29l4.6 9.3h-9.2zM1015.23 47.07l4.6 9.3h-9.2zM1015.32 47.45l4.6 9.3h-9.2zM1015.32 48.65l4.6 9.3h-9.2zM1015.32 48.89l4.6 9.3h-9.2zM1015.32 49.13l4.6 9.3h-9.2zM1015.32 49.39l4.6 9.3h-9.2zM1015.32 50.89l4.6 9.3h-9.2zM1015.42 52.12l4.6 9.3h-9.2zM1015.51 53.25l4.6 9.3h-9.2zM1015.66 53.49l4.6 9.3h-9.2zM1015.96 53.75l4.6 9.3h-9.2zM1016.04 53.99l4.6 9.3h-9.2zM1016.09 54.66l4.6 9.3h-9.2zM1016.16 55.49l4.6 9.3h-9.2zM1016.21 56.07l4.6 9.3h-9.2zM1016.24 56.54l4.6 9.3h-9.2zM1016.29 57.12l4.6 9.3h-9.2zM1016.39 58.36l4.6 9.3h-9.2zM1016.49 59.69l4.6 9.3h-9.2zM1016.69 60.27l4.6 9.3h-9.2zM1017.35 60.61l4.6 9.3h-9.2zM1017.43 62.02l4.6 9.3h-9.2zM1017.52 63.35l4.6 9.3h-9.2zM1017.54 63.67l4.6 9.3h-9.2zM1017.54 64.76l4.6 9.3h-9.2zM1017.54 65.8l4.6 9.3h-9.2zM1017.8 67.25l4.6 9.3h-9.2zM1017.61 67.21l4.6 9.3h-9.2zM1017.61 67.21l4.6 9.3h-9.2zM1017.61 67.21l4.6 9.3h-9.2zM1017.61 67.21l4.6 9.3h-9.2zM1017.61 67.21l4.6 9.3h-9.2zM1018.19 67.88l4.6 9.3h-9.2zM1018.17 69.2l4.6 9.3h-9.2zM1018.16 70.7l4.6 9.3h-9.2zM1018.15 71.02l4.6 9.3h-9.2zM1018.13 73.1l4.6 9.3h-9.2zM1018.12 73.93l4.6 9.3h-9.2zM1018.11 74.43l4.6 9.3h-9.2zM1018.1 74.77l4.6 9.3h-9.2zM1018.1 75.42l4.6 9.3h-9.2zM1018.08 76.66l4.6 9.3h-9.2zM1018.07 77.66l4.6 9.3h-9.2zM1018.07 77.87l4.6 9.3h-9.2zM1018.06 78.07l4.6 9.3h-9.2zM1018.06 78.24l4.6 9.3h-9.2zM1018.05 79.15l4.6 9.3h-9.2zM1018.13 80.48l4.6 9.3h-9.2zM1018.21 81.35l4.6 9.3h-9.2zM1018.2 81.36l4.6 9.3h-9.2zM1018.19 81.38l4.6 9.3h-9.2zM1018.17 81.35l4.6 9.3h-9.2zM1018.16 81.36l4.6 9.3h-9.2zM1018.15 81.38l4.6 9.3h-9.2zM1018.14 81.35l4.6 9.3h-9.2zM1018.12 81.36l4.6 9.3h-9.2zM1018.18 81.15l4.6 9.3h-9.2zM1018.04 81.65l4.6 9.3h-9.2zM1019.39 81.93l4.6 9.3h-9.2zM1020.82 82.98l4.6 9.3h-9.2zM1021.51 84.02l4.6 9.3h-9.2zM1022.34 85.07l4.6 9.3h-9.2zM1023.86 86.11l4.6 9.3h-9.2zM1026.33 87.15l4.6 9.3h-9.2zM1031 88.2l4.6 9.3h-9.2zM1020.01 82.15l4.6 9.3h-9.2zM1021.5 83.19l4.6 9.3h-9.2zM1021.61 84.23l4.6 9.3h-9.2zM1022.55 85.28l4.6 9.3h-9.2zM1024.33 86.32l4.6 9.3h-9.2zM1026.87 87.37l4.6 9.3h-9.2zM1029.68 88.41l4.6 9.3h-9.2zM1019.83 82.07l4.6 9.3h-9.2zM1020.93 83.13l4.6 9.3h-9.2zM1021.56 84.19l4.6 9.3h-9.2zM1022.47 85.24l4.6 9.3h-9.2zM1024.24 86.3l4.6 9.3h-9.2zM1026.79 87.36l4.6 9.3h-9.2zM1029.63 88.41l4.6 9.3h-9.2zM1019.99 82.15l4.6 9.3h-9.2zM1021.45 83.17l4.6 9.3h-9.2zM1021.56 84.19l4.6 9.3h-9.2zM1022.44 85.21l4.6 9.3h-9.2zM1024.09 86.23l4.6 9.3h-9.2zM1026.53 87.25l4.6 9.3h-9.2zM1029.24 88.27l4.6 9.3h-9.2zM1020.32 82.29l4.6 9.3h-9.2zM1021.56 83.27l4.6 9.3h-9.2zM1021.58 84.25l4.6 9.3h-9.2zM1022.45 85.24l4.6 9.3h-9.2zM1024.02 86.22l4.6 9.3h-9.2zM1026.35 87.2l4.6 9.3h-9.2zM1020.78 82.72l4.6 9.3h-9.2zM1020.93 82.86l4.6 9.3h-9.2zM1018.72 82l4.6 9.3h-9.2zM1098.82 88.31l4.6 9.3h-9.2zM1121.88 90.43l4.6 9.3h-9.2zM1135.72 91.66l4.6 9.3h-9.2zM1136.31 91.97l4.6 9.3h-9.2zM1136.74 92.19l4.6 9.3h-9.2zM1137.16 92.4l4.6 9.3h-9.2zM1137.59 92.61l4.6 9.3h-9.2zM1137.87 92.76l4.6 9.3h-9.2zM1138.3 92.97l4.6 9.3h-9.2zM1140.85 94.25l4.6 9.3h-9.2zM1143.23 95.82l4.6 9.3h-9.2zM1144.68 97.1l4.6 9.3h-9.2zM1146.27 98.59l4.6 9.3h-9.2zM1148.94 98.55l4.6 9.3h-9.2zM1151.19 98.55l4.6 9.3h-9.2zM1153.49 98.55l4.6 9.3h-9.2zM1156.82 99.24l4.6 9.3h-9.2zM1158.74 100.66l4.6 9.3h-9.2zM1159.31 101.09l4.6 9.3h-9.2zM1160.66 102.08l4.6 9.3h-9.2zM1162.18 103.37l4.6 9.3h-9.2zM1163.67 104.79l4.6 9.3h-9.2zM1163.76 104.88l4.6 9.3h-9.2zM1165.17 106.21l4.6 9.3h-9.2zM1166.66 107.64l4.6 9.3h-9.2zM1168.28 108.92l4.6 9.3h-9.2zM1168.4 109.03l4.6 9.3h-9.2zM1169.89 110.49l4.6 9.3h-9.2zM1171.32 111.87l4.6 9.3h-9.2zM1172.24 112.77l4.6 9.3h-9.2zM1172.46 112.98l4.6 9.3h-9.2zM1174.22 114.69l4.6 9.3h-9.2zM1175.73 115.98l4.6 9.3h-9.2zM1176.46 116.33l4.6 9.3h-9.2zM1177.99 117.04l4.6 9.3h-9.2zM1181.17 118.52l4.6 9.3h-9.2zM1182.95 119.44l4.6 9.3h-9.2zM1183.32 119.74l4.6 9.3h-9.2zM1185.11 121.17l4.6 9.3h-9.2zM1186.9 123.53l4.6 9.3h-9.2zM1188.31 124.92l4.6 9.3h-9.2zM1192.08 126.99l4.6 9.3h-9.2zM1195.85 129.07l4.6 9.3h-9.2zM1198.37 130.45l4.6 9.3h-9.2zM1201.32 132.18l4.6 9.3h-9.2zM1204.6 134.26l4.6 9.3h-9.2zM1207.62 136.16l4.6 9.3h-9.2zM1211.18 138.41l4.6 9.3h-9.2zM1212.38 140.49l4.6 9.3h-9.2zM1212.69 141.09l4.6 9.3h-9.2zM1213.74 143.17l4.6 9.3h-9.2zM1214.05 143.77l4.6 9.3h-9.2zM1215.01 145.68l4.6 9.3h-9.2zM1215.89 147.41l4.6 9.3h-9.2zM1216.94 149.48l4.6 9.3h-9.2zM1217.64 150.87l4.6 9.3h-9.2zM1218.35 152.25l4.6 9.3h-9.2zM1219.32 154.5l4.6 9.3h-9.2zM1220.11 156.4l4.6 9.3h-9.2zM1220.96 158.48l4.6 9.3h-9.2zM1221.82 160.55l4.6 9.3h-9.2zM1222.61 162.46l4.6 9.3h-9.2zM1223.39 164.36l4.6 9.3h-9.2zM1224.32 166.61l4.6 9.3h-9.2zM1224.89 167.99l4.6 9.3h-9.2zM1225.46 169.38l4.6 9.3h-9.2zM1226.35 171.63l4.6 9.3h-9.2zM1226.88 173.01l4.6 9.3h-9.2zM1227.69 175.09l4.6 9.3h-9.2zM1228.42 176.99l4.6 9.3h-9.2zM1229.3 179.24l4.6 9.3h-9.2zM1229.53 179.84l4.6 9.3h-9.2zM1230.4 182.09l4.6 9.3h-9.2zM1230.63 182.7l4.6 9.3h-9.2zM1231.17 184.08l4.6 9.3h-9.2zM1231.97 186.16l4.6 9.3h-9.2zM1232.21 186.76l4.6 9.3h-9.2zM1232.88 188.49l4.6 9.3h-9.2zM1233.12 189.1l4.6 9.3h-9.2zM1233.81 190.83l4.6 9.3h-9.2zM1234.58 192.73l4.6 9.3h-9.2zM1235.41 194.81l4.6 9.3h-9.2zM1236.31 197.06l4.6 9.3h-9.2zM1237.08 198.96l4.6 9.3h-9.2zM1237.98 201.21l4.6 9.3h-9.2zM1238.69 203.11l4.6 9.3h-9.2zM1239.15 205.01l4.6 9.3h-9.2zM1239.7 207.26l4.6 9.3h-9.2zM1240.2 209.34l4.6 9.3h-9.2zM1240.67 211.24l4.6 9.3h-9.2zM1241 212.63l4.6 9.3h-9.2zM1241.45 214.36l4.6 9.3h-9.2zM1241.76 214.96l4.6 9.3h-9.2zM1242.06 215.57l4.6 9.3h-9.2zM1242.76 216.95l4.6 9.3h-9.2zM1243.72 218.85l4.6 9.3h-9.2zM1244.41 220.24l4.6 9.3h-9.2zM1245.28 221.97l4.6 9.3h-9.2zM1246.41 224.22l4.6 9.3h-9.2zM1247.37 226.12l4.6 9.3h-9.2zM1248.5 228.37l4.6 9.3h-9.2zM1249.37 230.1l4.6 9.3h-9.2zM1250.25 232l4.6 9.3h-9.2zM1251.04 234.08l4.6 9.3h-9.2zM1251.77 235.98l4.6 9.3h-9.2zM1252.56 238.06l4.6 9.3h-9.2zM1253.22 239.79l4.6 9.3h-9.2zM1254.01 241.86l4.6 9.3h-9.2zM1254.81 243.94l4.6 9.3h-9.2zM1255.53 245.84l4.6 9.3h-9.2zM1256.32 247.92l4.6 9.3h-9.2zM1256.85 249.3l4.6 9.3h-9.2zM1257.65 251.03l4.6 9.3h-9.2zM1258.78 253.28l4.6 9.3h-9.2zM1259.08 253.89l4.6 9.3h-9.2zM1259.95 255.62l4.6 9.3h-9.2zM1261 257.69l4.6 9.3h-9.2zM1262.13 259.94l4.6 9.3h-9.2zM1263.26 262.19l4.6 9.3h-9.2zM1263.96 263.58l4.6 9.3h-9.2zM1265.05 265.82l4.6 9.3h-9.2zM1265.87 267.55l4.6 9.3h-9.2zM1266.86 269.63l4.6 9.3h-9.2zM1267.84 271.71l4.6 9.3h-9.2zM1268.83 273.78l4.6 9.3h-9.2zM1269.12 274.39l4.6 9.3h-9.2zM1270.19 276.64l4.6 9.3h-9.2zM1271.26 278.89l4.6 9.3h-9.2zM1271.92 280.27l4.6 9.3h-9.2zM1272.99 282.52l4.6 9.3h-9.2zM1273.97 284.59l4.6 9.3h-9.2zM1274.79 286.32l4.6 9.3h-9.2zM1275.62 288.05l4.6 9.3h-9.2zM1275.9 288.66l4.6 9.3h-9.2zM1276.03 289.27l4.6 9.3h-9.2zM1276.44 291.17l4.6 9.3h-9.2zM1276.92 293.42l4.6 9.3h-9.2zM1277.32 295.32l4.6 9.3h-9.2zM1277.45 295.93l4.6 9.3h-9.2zM1277.82 297.66l4.6 9.3h-9.2zM1277.95 298.26l4.6 9.3h-9.2zM1278.36 300.16l4.6 9.3h-9.2zM1278.65 301.55l4.6 9.3h-9.2zM1278.78 302.15l4.6 9.3h-9.2zM1279.15 303.88l4.6 9.3h-9.2zM1279.56 305.79l4.6 9.3h-9.2zM1280.46 307.69l4.6 9.3h-9.2zM1280.83 308.3l4.6 9.3h-9.2zM1281.2 308.9l4.6 9.3h-9.2zM1282.47 310.98l4.6 9.3h-9.2zM1283.74 313.05l4.6 9.3h-9.2zM1284.11 313.66l4.6 9.3h-9.2zM1285.27 315.56l4.6 9.3h-9.2zM1286.65 317.81l4.6 9.3h-9.2zM1287.91 319.89l4.6 9.3h-9.2zM1288.97 321.62l4.6 9.3h-9.2zM1290.24 323.69l4.6 9.3h-9.2zM1291.3 325.42l4.6 9.3h-9.2zM1292.57 327.5l4.6 9.3h-9.2zM1293.41 328.88l4.6 9.3h-9.2zM1293.73 329.49l4.6 9.3h-9.2zM1294.17 331.22l4.6 9.3h-9.2zM1294.32 331.82l4.6 9.3h-9.2zM1294.47 332.43l4.6 9.3h-9.2zM1294.62 333.03l4.6 9.3h-9.2zM1295.14 335.11l4.6 9.3h-9.2zM1295.66 337.19l4.6 9.3h-9.2zM1295.81 337.79l4.6 9.3h-9.2zM1296.16 339.18l4.6 9.3h-9.2zM1296.63 341.08l4.6 9.3h-9.2zM1297.06 342.81l4.6 9.3h-9.2zM1297.58 344.89l4.6 9.3h-9.2zM1298.02 346.62l4.6 9.3h-9.2zM1298.36 348l4.6 9.3h-9.2zM1298.94 350.25l4.6 9.3h-9.2zM1299.1 350.85l4.6 9.3h-9.2zM1299.57 352.58l4.6 9.3h-9.2zM1300.04 354.31l4.6 9.3h-9.2zM1300.51 356.04l4.6 9.3h-9.2zM1300.89 357.43l4.6 9.3h-9.2zM1301.41 359.33l4.6 9.3h-9.2zM1301.93 361.23l4.6 9.3h-9.2zM1302.45 363.14l4.6 9.3h-9.2zM1303.01 365.21l4.6 9.3h-9.2zM1303.53 367.12l4.6 9.3h-9.2zM1304.14 369.36l4.6 9.3h-9.2zM1304.71 371.44l4.6 9.3h-9.2zM1305.32 373.69l4.6 9.3h-9.2zM1305.89 375.77l4.6 9.3h-9.2zM1306.05 376.37l4.6 9.3h-9.2zM1306.65 378.45l4.6 9.3h-9.2zM1307.3 380.52l4.6 9.3h-9.2zM1307.84 382.25l4.6 9.3h-9.2zM1308.43 384.16l4.6 9.3h-9.2zM1309.13 386.41l4.6 9.3h-9.2zM1309.83 388.65l4.6 9.3h-9.2zM1310.54 390.9l4.6 9.3h-9.2zM1310.97 392.29l4.6 9.3h-9.2zM1311.51 394.02l4.6 9.3h-9.2zM1312.1 395.92l4.6 9.3h-9.2zM1312.64 397.65l4.6 9.3h-9.2zM1313.29 399.73l4.6 9.3h-9.2zM1313.83 401.46l4.6 9.3h-9.2zM1314.48 403.53l4.6 9.3h-9.2zM1315.02 405.26l4.6 9.3h-9.2zM1315.21 405.87l4.6 9.3h-9.2zM1315.8 407.77l4.6 9.3h-9.2zM1316.45 409.85l4.6 9.3h-9.2zM1316.99 411.58l4.6 9.3h-9.2zM1317.18 412.18l4.6 9.3h-9.2zM1317.77 414.09l4.6 9.3h-9.2zM1318.42 416.16l4.6 9.3h-9.2zM1319.06 418.24l4.6 9.3h-9.2zM1319.69 420.49l4.6 9.3h-9.2zM1320.08 421.87l4.6 9.3h-9.2zM1320.25 422.48l4.6 9.3h-9.2zM1320.87 424.72l4.6 9.3h-9.2zM1321.5 426.97l4.6 9.3h-9.2zM1321.98 428.7l4.6 9.3h-9.2zM1322.51 430.61l4.6 9.3h-9.2zM1322.99 432.34l4.6 9.3h-9.2zM1323.61 434.59l4.6 9.3h-9.2zM1324.09 436.32l4.6 9.3h-9.2zM1324.67 438.39l4.6 9.3h-9.2zM1325.29 440.64l4.6 9.3h-9.2zM1325.78 442.37l4.6 9.3h-9.2zM1326.4 444.62l4.6 9.3h-9.2zM1326.93 446.52l4.6 9.3h-9.2zM1327.1 447.13l4.6 9.3h-9.2zM1327.67 449.2l4.6 9.3h-9.2zM1327.84 449.81l4.6 9.3h-9.2zM1328.47 452.06l4.6 9.3h-9.2zM1328.64 452.66l4.6 9.3h-9.2zM1329.12 454.39l4.6 9.3h-9.2zM1329.6 456.12l4.6 9.3h-9.2zM1330.22 458.37l4.6 9.3h-9.2zM1330.75 460.28l4.6 9.3h-9.2zM1331.23 462.01l4.6 9.3h-9.2zM1331.81 464.08l4.6 9.3h-9.2zM1332.38 466.16l4.6 9.3h-9.2zM1332.86 467.89l4.6 9.3h-9.2zM1333.24 469.27l4.6 9.3h-9.2zM1333.71 471l4.6 9.3h-9.2zM1334.09 472.39l4.6 9.3h-9.2zM1334.57 474.12l4.6 9.3h-9.2zM1335.04 475.85l4.6 9.3h-9.2zM1335.61 477.92l4.6 9.3h-9.2zM1336.09 479.65l4.6 9.3h-9.2zM1336.57 481.38l4.6 9.3h-9.2zM1337.09 483.29l4.6 9.3h-9.2zM1337.26 483.89l4.6 9.3h-9.2zM1337.42 484.5l4.6 9.3h-9.2zM1337.99 486.57l4.6 9.3h-9.2zM1338.61 488.82l4.6 9.3h-9.2zM1339.23 491.07l4.6 9.3h-9.2zM1339.58 492.45l4.6 9.3h-9.2zM1339.93 494.18l4.6 9.3h-9.2zM1340.34 496.26l4.6 9.3h-9.2zM1340.62 497.64l4.6 9.3h-9.2zM1341.06 499.89l4.6 9.3h-9.2zM1341.41 501.62l4.6 9.3h-9.2zM1341.69 503.01l4.6 9.3h-9.2zM1342.03 504.74l4.6 9.3h-9.2zM1342.31 506.12l4.6 9.3h-9.2zM1342.76 508.37l4.6 9.3h-9.2zM1343.14 510.27l4.6 9.3h-9.2zM1343.58 512.52l4.6 9.3h-9.2zM1344.03 514.77l4.6 9.3h-9.2zM1344.15 515.38l4.6 9.3h-9.2zM1344.27 515.98l4.6 9.3h-9.2zM1344.69 518.06l4.6 9.3h-9.2zM1345.03 519.79l4.6 9.3h-9.2zM1345.38 521.52l4.6 9.3h-9.2zM1345.83 523.77l4.6 9.3h-9.2zM1346.1 525.15l4.6 9.3h-9.2zM1346.48 527.05l4.6 9.3h-9.2zM1346.76 528.44l4.6 9.3h-9.2zM1346.88 529.04l4.6 9.3h-9.2zM1347.2 530.77l4.6 9.3h-9.2zM1347.58 533.02l4.6 9.3h-9.2zM1347.95 535.27l4.6 9.3h-9.2zM1348.18 536.66l4.6 9.3h-9.2zM1348.52 538.73l4.6 9.3h-9.2zM1348.84 540.64l4.6 9.3h-9.2zM1349.13 542.37l4.6 9.3h-9.2zM1349.36 543.75l4.6 9.3h-9.2zM1349.46 544.35l4.6 9.3h-9.2zM1349.56 544.96l4.6 9.3h-9.2zM1349.9 547.04l4.6 9.3h-9.2zM1350.13 548.42l4.6 9.3h-9.2zM1350.42 550.15l4.6 9.3h-9.2zM1350.76 552.23l4.6 9.3h-9.2zM1350.99 553.61l4.6 9.3h-9.2zM1351.25 555.34l4.6 9.3h-9.2z" fill="#bf00bf"/></g>
<g clip-path="url(#c01)"><polyline points="364.1,617.4 363.8,625.8 363.7,627.5 363.6,629.2 363.5,631 362.4,641.5 362.4,650.2 361.5,658.1 360.3,659.8 358.9,661.6 357.4,663.3 357.1,668 356.5,673.8 356.5,677.9 356.5,681.2 356.5,685.3 357.1,694 357.4,703.3 358.3,707.4 358.9,709.8 360.3,719.7 361.2,729 361.8,731.3 363.8,738.9 365.4,746.2 368,756.4 377.9,756.1 380.3,756.1 382.6,756.1 384.6,756.1 386.7,756.1 392.8,760.8 393.7,770.1 394.6,780.6 394.6,782.9 394.6,797.5 394.8,803.3 395.4,806.8 396,809.2 396.3,813.8 396.4,822.5 394,829.5 394,831 394,832.4 394,833.6 392.6,840 393.5,849.3 391.4,855.4 393,855.5 394.5,855.6 396,855.4 397.5,855.5 399,855.6 400.5,855.4 402.5,855.5 410.1,854 413,857.5 417.5,859.5 420.08,866.83 422.67,874.17 425.25,881.5 427.83,888.83 430.42,896.17 433,903.5 419,861 422.08,868.33 425.17,875.67 428.25,883 431.33,890.33 434.42,897.67 437.5,905 420.5,860.5 424.33,867.92 428.17,875.33 432,882.75 435.83,890.17 439.67,897.58 443.5,905 421.5,861 424.67,868.17 427.83,875.33 431,882.5 434.17,889.67 437.33,896.83 440.5,904 422,862 426.2,868.9 430.4,875.8 434.6,882.7 438.8,889.6 443,896.5 417,865 443.5,889.2 442.5,899.5 443.2,889.3 417.5,866 415,860 416.3,861.3 413.8,884.3 412.5,896.4 410.5,904.3 407.5,919.2 404.7,927.8 399,930 395,931.5 391.5,933 388,934.5 384,935.5 380,937 358.5,946 341,957 331,966 320,976.5 314,976.2 306,976.2 300,976.2 293,981 287.5,991 286.5,994 283.3,1001 275.3,1010 267.2,1020 266.8,1020.6 260.5,1030 254.5,1040 250.2,1049 249.8,1049.8 242.5,1060 235.5,1069.7 233,1076 232.5,1077.5 235.5,1089.5 237.5,1098.6 222.5,1101 189,1106 131.4,1116.4 105.7,1122.9 104.3,1125 112.9,1135 122.5,1147 131,1159" fill="none" stroke="#1f77b4" stroke-width="2.08" stroke-linejoin="round" stroke-linecap="square"/><path d="M359.93 613.23l8.33 8.33m0 -8.33l-8.33 8.33M359.63 621.63l8.33 8.33m0 -8.33l-8.33 8.33M359.53 623.33l8.33 8.33m0 -8.33l-8.33 8.33M359.43 625.03l8.33 8.33m0 -8.33l-8.33 8.33M359.33 626.83l8.33 8.33m0 -8.33l-8.33 8.33M358.23 637.33l8.33 8.33m0 -8.33l-8.33 8.33M358.23 646.03l8.33 8.33m0 -8.33l-8.33 8.33M357.33 653.93l8.33 8.33m0 -8.33l-8.33 8.33M356.13 655.63l8.33 8.33m0 -8.33l-8.33 8.33M354.73 657.43l8.33 8.33m0 -8.33l-8.33 8.33M353.23 659.13l8.33 8.33m0 -8.33l-8.33 8.33M352.93 663.83l8.33 8.33m0 -8.33l-8.33 8.33M352.33 669.63l8.33 8.33m0 -8.33l-8.33 8.33M352.33 673.73l8.33 8.33m0 -8.33l-8.33 8.33M352.33 677.03l8.33 8.33m0 -8.33l-8.33 8.33M352.33 681.13l8.33 8.33m0 -8.33l-8.33 8.33M352.93 689.83l8.33 8.33m0 -8.33l-8.33 8.33M353.23 699.13l8.33 8.33m0 -8.33l-8.33 8.33M354.13 703.23l8.33 8.33m0 -8.33l-8.33 8.33M354.73 705.63l8.33 8.33m0 -8.33l-8.33 8.33M356.13 715.53l8.33 8.33m0 -8.33l-8.33 8.33M357.03 724.83l8.33 8.33m0 -8.33l-8.33 8.33M357.63 727.13l8.33 8.33m0 -8.33l-8.33 8.33M359.63 734.73l8.33 8.33m0 -8.33l-8.33 8.33M361.23 742.03l8.33 8.33m0 -8.33l-8.33 8.33M363.83 752.23l8.33 8.33m0 -8.33l-8.33 8.33M373.73 751.93l8.33 8.33m0 -8.33l-8.33 8.33M376.13 751.93l8.33 8.33m0 -8.33l-8.33 8.33M378.43 751.93l8.33 8.33m0 -8.33l-8.33 8.33M380.43 751.93l8.33 8.33m0 -8.33l-8.33 8.33M382.53 751.93l8.33 8.33m0 -8.33l-8.33 8.33M388.63 756.63l8.33 8.33m0 -8.33l-8.33 8.33M389.53 765.93l8.33 8.33m0 -8.33l-8.33 8.33M390.43 776.43l8.33 8.33m0 -8.33l-8.33 8.33M390.43 778.73l8.33 8.33m0 -8.33l-8.33 8.33M390.43 793.33l8.33 8.33m0 -8.33l-8.33 8.33M390.63 799.13l8.33 8.33m0 -8.33l-8.33 8.33M391.23 802.63l8.33 8.33m0 -8.33l-8.33 8.33M391.83 805.03l8.33 8.33m0 -8.33l-8.33 8.33M392.13 809.63l8.33 8.33m0 -8.33l-8.33 8.33M392.23 818.33l8.33 8.33m0 -8.33l-8.33 8.33M389.83 825.33l8.33 8.33m0 -8.33l-8.33 8.33M389.83 826.83l8.33 8.33m0 -8.33l-8.33 8.33M389.83 828.23l8.33 8.33m0 -8.33l-8.33 8.33M389.83 829.43l8.33 8.33m0 -8.33l-8.33 8.33M388.43 835.83l8.33 8.33m0 -8.33l-8.33 8.33M389.33 845.13l8.33 8.33m0 -8.33l-8.33 8.33M387.23 851.23l8.33 8.33m0 -8.33l-8.33 8.33M388.83 851.33l8.33 8.33m0 -8.33l-8.33 8.33M390.33 851.43l8.33 8.33m0 -8.33l-8.33 8.33M391.83 851.23l8.33 8.33m0 -8.33l-8.33 8.33M393.33 851.33l8.33 8.33m0 -8.33l-8.33 8.33M394.83 851.43l8.33 8.33m0 -8.33l-8.33 8.33M396.33 851.23l8.33 8.33m0 -8.33l-8.33 8.33M398.33 851.33l8.33 8.33m0 -8.33l-8.33 8.33M405.93 849.83l8.33 8.33m0 -8.33l-8.33 8.33M408.83 853.33l8.33 8.33m0 -8.33l-8.33 8.33M413.33 855.33l8.33 8.33m0 -8.33l-8.33 8.33M415.92 862.67l8.33 8.33m0 -8.33l-8.33 8.33M418.5 870l8.33 8.33m0 -8.33l-8.33 8.33M421.08 877.33l8.33 8.33m0 -8.33l-8.33 8.33M423.67 884.67l8.33 8.33m0 -8.33l-8.33 8.33M426.25 892l8.33 8.33m0 -8.33l-8.33 8.33M428.83 899.33l8.33 8.33m0 -8.33l-8.33 8.33M414.83 856.83l8.33 8.33m0 -8.33l-8.33 8.33M417.92 864.17l8.33 8.33m0 -8.33l-8.33 8.33M421 871.5l8.33 8.33m0 -8.33l-8.33 8.33M424.08 878.83l8.33 8.33m0 -8.33l-8.33 8.33M427.17 886.17l8.33 8.33m0 -8.33l-8.33 8.33M430.25 893.5l8.33 8.33m0 -8.33l-8.33 8.33M433.33 900.83l8.33 8.33m0 -8.33l-8.33 8.33M416.33 856.33l8.33 8.33m0 -8.33l-8.33 8.33M420.17 863.75l8.33 8.33m0 -8.33l-8.33 8.33M424 871.17l8.33 8.33m0 -8.33l-8.33 8.33M427.83 878.58l8.33 8.33m0 -8.33l-8.33 8.33M431.67 886l8.33 8.33m0 -8.33l-8.33 8.33M435.5 893.42l8.33 8.33m0 -8.33l-8.33 8.33M439.33 900.83l8.33 8.33m0 -8.33l-8.33 8.33M417.33 856.83l8.33 8.33m0 -8.33l-8.33 8.33M420.5 864l8.33 8.33m0 -8.33l-8.33 8.33M423.67 871.17l8.33 8.33m0 -8.33l-8.33 8.33M426.83 878.33l8.33 8.33m0 -8.33l-8.33 8.33M430 885.5l8.33 8.33m0 -8.33l-8.33 8.33M433.17 892.67l8.33 8.33m0 -8.33l-8.33 8.33M436.33 899.83l8.33 8.33m0 -8.33l-8.33 8.33M417.83 857.83l8.33 8.33m0 -8.33l-8.33 8.33M422.03 864.73l8.33 8.33m0 -8.33l-8.33 8.33M426.23 871.63l8.33 8.33m0 -8.33l-8.33 8.33M430.43 878.53l8.33 8.33m0 -8.33l-8.33 8.33M434.63 885.43l8.33 8.33m0 -8.33l-8.33 8.33M438.83 892.33l8.33 8.33m0 -8.33l-8.33 8.33M412.83 860.83l8.33 8.33m0 -8.33l-8.33 8.33M439.33 885.03l8.33 8.33m0 -8.33l-8.33 8.33M438.33 895.33l8.33 8.33m0 -8.33l-8.33 8.33M439.03 885.13l8.33 8.33m0 -8.33l-8.33 8.33M413.33 861.83l8.33 8.33m0 -8.33l-8.33 8.33M410.83 855.83l8.33 8.33m0 -8.33l-8.33 8.33M412.13 857.13l8.33 8.33m0 -8.33l-8.33 8.33M409.63 880.13l8.33 8.33m0 -8.33l-8.33 8.33M408.33 892.23l8.33 8.33m0 -8.33l-8.33 8.33M406.33 900.13l8.33 8.33m0 -8.33l-8.33 8.33M403.33 915.03l8.33 8.33m0 -8.33l-8.33 8.33M400.53 923.63l8.33 8.33m0 -8.33l-8.33 8.33M394.83 925.83l8.33 8.33m0 -8.33l-8.33 8.33M390.83 927.33l8.33 8.33m0 -8.33l-8.33 8.33M387.33 928.83l8.33 8.33m0 -8.33l-8.33 8.33M383.83 930.33l8.33 8.33m0 -8.33l-8.33 8.33M379.83 931.33l8.33 8.33m0 -8.33l-8.33 8.33M375.83 932.83l8.33 8.33m0 -8.33l-8.33 8.33M354.33 941.83l8.33 8.33m0 -8.33l-8.33 8.33M336.83 952.83l8.33 8.33m0 -8.33l-8.33 8.33M326.83 961.83l8.33 8.33m0 -8.33l-8.33 8.33M315.83 972.33l8.33 8.33m0 -8.33l-8.33 8.33M309.83 972.03l8.33 8.33m0 -8.33l-8.33 8.33M301.83 972.03l8.33 8.33m0 -8.33l-8.33 8.33M295.83 972.03l8.33 8.33m0 -8.33l-8.33 8.33M288.83 976.83l8.33 8.33m0 -8.33l-8.33 8.33M283.33 986.83l8.33 8.33m0 -8.33l-8.33 8.33M282.33 989.83l8.33 8.33m0 -8.33l-8.33 8.33M279.13 996.83l8.33 8.33m0 -8.33l-8.33 8.33M271.13 1005.83l8.33 8.33m0 -8.33l-8.33 8.33M263.03 1015.83l8.33 8.33m0 -8.33l-8.33 8.33M262.63 1016.43l8.33 8.33m0 -8.33l-8.33 8.33M256.33 1025.83l8.33 8.33m0 -8.33l-8.33 8.33M250.33 1035.83l8.33 8.33m0 -8.33l-8.33 8.33M246.03 1044.83l8.33 8.33m0 -8.33l-8.33 8.33M245.63 1045.63l8.33 8.33m0 -8.33l-8.33 8.33M238.33 1055.83l8.33 8.33m0 -8.33l-8.33 8.33M231.33 1065.53l8.33 8.33m0 -8.33l-8.33 8.33M228.83 1071.83l8.33 8.33m0 -8.33l-8.33 8.33M228.33 1073.33l8.33 8.33m0 -8.33l-8.33 8.33M231.33 1085.33l8.33 8.33m0 -8.33l-8.33 8.33M233.33 1094.43l8.33 8.33m0 -8.33l-8.33 8.33M218.33 1096.83l8.33 8.33m0 -8.33l-8.33 8.33M184.83 1101.83l8.33 8.33m0 -8.33l-8.33 8.33M127.23 1112.23l8.33 8.33m0 -8.33l-8.33 8.33M101.53 1118.73l8.33 8.33m0 -8.33l-8.33 8.33M100.13 1120.83l8.33 8.33m0 -8.33l-8.33 8.33M108.73 1130.83l8.33 8.33m0 -8.33l-8.33 8.33M118.33 1142.83l8.33 8.33m0 -8.33l-8.33 8.33M126.83 1154.83l8.33 8.33m0 -8.33l-8.33 8.33" fill="none" stroke="#1f77b4" stroke-width="1.39"/></g>
<g clip-path="url(#c11)"><polyline points="560.5,617.4 560.59,625.8 560.61,627.5 560.63,629.2 560.65,631 560.77,641.5 560.87,650.2 560.96,658.1 560.97,659.8 561,661.6 561.05,663.3 561.22,668 561.44,673.8 561.6,677.9 561.72,681.2 561.87,685.3 562.2,694 562.59,703.3 562.86,707.4 563.02,709.8 563.68,719.7 564.3,729 564.45,731.3 564.64,738.9 564.78,746.2 564.99,756.4 564.98,756.1 564.98,756.1 564.98,756.1 564.98,756.1 564.98,756.1 565.57,760.8 566.29,770.1 565.59,780.6 565.54,782.9 566.27,797.5 566.48,803.3 566.44,806.8 566.41,809.2 566.35,813.8 566.24,822.5 566.16,829.5 566.14,831 566.12,832.4 566.1,833.6 566.02,840 566.21,849.3 566.38,855.4 566.39,855.5 566.39,855.6 566.38,855.4 566.39,855.5 566.39,855.6 566.38,855.4 566.39,855.5 566.34,854 566.4,857.5 569.18,859.5 572.1,866.83 573.54,874.17 575.24,881.5 578.33,888.83 583.33,896.17 592.74,903.5 570.46,861 573.49,868.33 573.77,875.67 575.7,883 579.33,890.33 584.48,897.67 590.17,905 570.13,860.5 572.4,867.92 573.72,875.33 575.62,882.75 579.22,890.17 584.42,897.58 590.17,905 570.46,861 573.44,868.17 573.72,875.33 575.54,882.5 578.89,889.67 583.84,896.83 589.34,904 571.13,862 573.69,868.9 573.79,875.8 575.61,882.7 578.84,889.6 583.59,896.5 571.97,865 596,889.2 614.5,899.5 599,889.3 572.28,866 567.8,860 591.5,861.3 664.5,884.3 701.5,896.4 728.4,904.3 774.6,919.2 802.3,927.8 804,930 805,931.5 806,933 806.5,934.5 807,935.5 808,937 812.3,946 816.4,957 819.5,966 822.1,976.5 827.7,976.2 832.4,976.2 837.2,976.2 842.5,981 845.7,991 846.8,994 850.1,1001 853.6,1010 856.2,1020 856.5,1020.6 858.3,1030 861.3,1040 864.3,1049 864.6,1049.8 867.5,1060 870.6,1069.7 872.6,1076 873.2,1077.5 877.5,1089.5 880,1098.6 881.9,1101 884.4,1106 889.4,1116.4 892.5,1122.9 893.1,1125 896.3,1135 900.5,1147 904.5,1159" fill="none" stroke="#1f77b4" stroke-width="2.08" stroke-linejoin="round" stroke-linecap="square"/><path d="M556.33 613.23l8.33 8.33m0 -8.33l-8.33 8.33M556.42 621.63l8.33 8.33m0 -8.33l-8.33 8.33M556.44 623.33l8.33 8.33m0 -8.33l-8.33 8.33M556.46 625.03l8.33 8.33m0 -8.33l-8.33 8.33M556.48 626.83l8.33 8.33m0 -8.33l-8.33 8.33M556.6 637.33l8.33 8.33m0 -8.33l-8.33 8.33M556.7 646.03l8.33 8.33m0 -8.33l-8.33 8.33M556.79 653.93l8.33 8.33m0 -8.33l-8.33 8.33M556.81 655.63l8.33 8.33m0 -8.33l-8.33 8.33M556.83 657.43l8.33 8.33m0 -8.33l-8.33 8.33M556.88 659.13l8.33 8.33m0 -8.33l-8.33 8.33M557.06 663.83l8.33 8.33m0 -8.33l-8.33 8.33M557.28 669.63l8.33 8.33m0 -8.33l-8.33 8.33M557.43 673.73l8.33 8.33m0 -8.33l-8.33 8.33M557.55 677.03l8.33 8.33m0 -8.33l-8.33 8.33M557.71 681.13l8.33 8.33m0 -8.33l-8.33 8.33M558.03 689.83l8.33 8.33m0 -8.33l-8.33 8.33M558.42 699.13l8.33 8.33m0 -8.33l-8.33 8.33M558.69 703.23l8.33 8.33m0 -8.33l-8.33 8.33M558.85 705.63l8.33 8.33m0 -8.33l-8.33 8.33M559.51 715.53l8.33 8.33m0 -8.33l-8.33 8.33M560.13 724.83l8.33 8.33m0 -8.33l-8.33 8.33M560.29 727.13l8.33 8.33m0 -8.33l-8.33 8.33M560.47 734.73l8.33 8.33m0 -8.33l-8.33 8.33M560.62 742.03l8.33 8.33m0 -8.33l-8.33 8.33M560.82 752.23l8.33 8.33m0 -8.33l-8.33 8.33M560.82 751.93l8.33 8.33m0 -8.33l-8.33 8.33M560.82 751.93l8.33 8.33m0 -8.33l-8.33 8.33M560.82 751.93l8.33 8.33m0 -8.33l-8.33 8.33M560.82 751.93l8.33 8.33m0 -8.33l-8.33 8.33M560.82 751.93l8.33 8.33m0 -8.33l-8.33 8.33M561.4 756.63l8.33 8.33m0 -8.33l-8.33 8.33M562.13 765.93l8.33 8.33m0 -8.33l-8.33 8.33M561.43 776.43l8.33 8.33m0 -8.33l-8.33 8.33M561.38 778.73l8.33 8.33m0 -8.33l-8.33 8.33M562.11 793.33l8.33 8.33m0 -8.33l-8.33 8.33M562.32 799.13l8.33 8.33m0 -8.33l-8.33 8.33M562.27 802.63l8.33 8.33m0 -8.33l-8.33 8.33M562.24 805.03l8.33 8.33m0 -8.33l-8.33 8.33M562.19 809.63l8.33 8.33m0 -8.33l-8.33 8.33M562.08 818.33l8.33 8.33m0 -8.33l-8.33 8.33M561.99 825.33l8.33 8.33m0 -8.33l-8.33 8.33M561.97 826.83l8.33 8.33m0 -8.33l-8.33 8.33M561.95 828.23l8.33 8.33m0 -8.33l-8.33 8.33M561.94 829.43l8.33 8.33m0 -8.33l-8.33 8.33M561.86 835.83l8.33 8.33m0 -8.33l-8.33 8.33M562.04 845.13l8.33 8.33m0 -8.33l-8.33 8.33M562.22 851.23l8.33 8.33m0 -8.33l-8.33 8.33M562.22 851.33l8.33 8.33m0 -8.33l-8.33 8.33M562.22 851.43l8.33 8.33m0 -8.33l-8.33 8.33M562.22 851.23l8.33 8.33m0 -8.33l-8.33 8.33M562.22 851.33l8.33 8.33m0 -8.33l-8.33 8.33M562.22 851.43l8.33 8.33m0 -8.33l-8.33 8.33M562.22 851.23l8.33 8.33m0 -8.33l-8.33 8.33M562.22 851.33l8.33 8.33m0 -8.33l-8.33 8.33M562.18 849.83l8.33 8.33m0 -8.33l-8.33 8.33M562.23 853.33l8.33 8.33m0 -8.33l-8.33 8.33M565.01 855.33l8.33 8.33m0 -8.33l-8.33 8.33M567.94 862.67l8.33 8.33m0 -8.33l-8.33 8.33M569.37 870l8.33 8.33m0 -8.33l-8.33 8.33M571.07 877.33l8.33 8.33m0 -8.33l-8.33 8.33M574.17 884.67l8.33 8.33m0 -8.33l-8.33 8.33M579.17 892l8.33 8.33m0 -8.33l-8.33 8.33M588.57 899.33l8.33 8.33m0 -8.33l-8.33 8.33M566.29 856.83l8.33 8.33m0 -8.33l-8.33 8.33M569.33 864.17l8.33 8.33m0 -8.33l-8.33 8.33M569.61 871.5l8.33 8.33m0 -8.33l-8.33 8.33M571.53 878.83l8.33 8.33m0 -8.33l-8.33 8.33M575.17 886.17l8.33 8.33m0 -8.33l-8.33 8.33M580.31 893.5l8.33 8.33m0 -8.33l-8.33 8.33M586 900.83l8.33 8.33m0 -8.33l-8.33 8.33M565.96 856.33l8.33 8.33m0 -8.33l-8.33 8.33M568.23 863.75l8.33 8.33m0 -8.33l-8.33 8.33M569.55 871.17l8.33 8.33m0 -8.33l-8.33 8.33M571.46 878.58l8.33 8.33m0 -8.33l-8.33 8.33M575.05 886l8.33 8.33m0 -8.33l-8.33 8.33M580.25 893.42l8.33 8.33m0 -8.33l-8.33 8.33M586 900.83l8.33 8.33m0 -8.33l-8.33 8.33M566.29 856.83l8.33 8.33m0 -8.33l-8.33 8.33M569.27 864l8.33 8.33m0 -8.33l-8.33 8.33M569.55 871.17l8.33 8.33m0 -8.33l-8.33 8.33M571.38 878.33l8.33 8.33m0 -8.33l-8.33 8.33M574.72 885.5l8.33 8.33m0 -8.33l-8.33 8.33M579.68 892.67l8.33 8.33m0 -8.33l-8.33 8.33M585.17 899.83l8.33 8.33m0 -8.33l-8.33 8.33M566.96 857.83l8.33 8.33m0 -8.33l-8.33 8.33M569.53 864.73l8.33 8.33m0 -8.33l-8.33 8.33M569.63 871.63l8.33 8.33m0 -8.33l-8.33 8.33M571.44 878.53l8.33 8.33m0 -8.33l-8.33 8.33M574.68 885.43l8.33 8.33m0 -8.33l-8.33 8.33M579.42 892.33l8.33 8.33m0 -8.33l-8.33 8.33M567.81 860.83l8.33 8.33m0 -8.33l-8.33 8.33M591.83 885.03l8.33 8.33m0 -8.33l-8.33 8.33M610.33 895.33l8.33 8.33m0 -8.33l-8.33 8.33M594.83 885.13l8.33 8.33m0 -8.33l-8.33 8.33M568.11 861.83l8.33 8.33m0 -8.33l-8.33 8.33M563.63 855.83l8.33 8.33m0 -8.33l-8.33 8.33M587.33 857.13l8.33 8.33m0 -8.33l-8.33 8.33M660.33 880.13l8.33 8.33m0 -8.33l-8.33 8.33M697.33 892.23l8.33 8.33m0 -8.33l-8.33 8.33M724.23 900.13l8.33 8.33m0 -8.33l-8.33 8.33M770.43 915.03l8.33 8.33m0 -8.33l-8.33 8.33M798.13 923.63l8.33 8.33m0 -8.33l-8.33 8.33M799.83 925.83l8.33 8.33m0 -8.33l-8.33 8.33M800.83 927.33l8.33 8.33m0 -8.33l-8.33 8.33M801.83 928.83l8.33 8.33m0 -8.33l-8.33 8.33M802.33 930.33l8.33 8.33m0 -8.33l-8.33 8.33M802.83 931.33l8.33 8.33m0 -8.33l-8.33 8.33M803.83 932.83l8.33 8.33m0 -8.33l-8.33 8.33M808.13 941.83l8.33 8.33m0 -8.33l-8.33 8.33M812.23 952.83l8.33 8.33m0 -8.33l-8.33 8.33M815.33 961.83l8.33 8.33m0 -8.33l-8.33 8.33M817.93 972.33l8.33 8.33m0 -8.33l-8.33 8.33M823.53 972.03l8.33 8.33m0 -8.33l-8.33 8.33M828.23 972.03l8.33 8.33m0 -8.33l-8.33 8.33M833.03 972.03l8.33 8.33m0 -8.33l-8.33 8.33M838.33 976.83l8.33 8.33m0 -8.33l-8.33 8.33M841.53 986.83l8.33 8.33m0 -8.33l-8.33 8.33M842.63 989.83l8.33 8.33m0 -8.33l-8.33 8.33M845.93 996.83l8.33 8.33m0 -8.33l-8.33 8.33M849.43 1005.83l8.33 8.33m0 -8.33l-8.33 8.33M852.03 1015.83l8.33 8.33m0 -8.33l-8.33 8.33M852.33 1016.43l8.33 8.33m0 -8.33l-8.33 8.33M854.13 1025.83l8.33 8.33m0 -8.33l-8.33 8.33M857.13 1035.83l8.33 8.33m0 -8.33l-8.33 8.33M860.13 1044.83l8.33 8.33m0 -8.33l-8.33 8.33M860.43 1045.63l8.33 8.33m0 -8.33l-8.33 8.33M863.33 1055.83l8.33 8.33m0 -8.33l-8.33 8.33M866.43 1065.53l8.33 8.33m0 -8.33l-8.33 8.33M868.43 1071.83l8.33 8.33m0 -8.33l-8.33 8.33M869.03 1073.33l8.33 8.33m0 -8.33l-8.33 8.33M873.33 1085.33l8.33 8.33m0 -8.33l-8.33 8.33M875.83 1094.43l8.33 8.33m0 -8.33l-8.33 8.33M877.73 1096.83l8.33 8.33m0 -8.33l-8.33 8.33M880.23 1101.83l8.33 8.33m0 -8.33l-8.33 8.33M885.23 1112.23l8.33 8.33m0 -8.33l-8.33 8.33M888.33 1118.73l8.33 8.33m0 -8.33l-8.33 8.33M888.93 1120.83l8.33 8.33m0 -8.33l-8.33 8.33M892.13 1130.83l8.33 8.33m0 -8.33l-8.33 8.33M896.33 1142.83l8.33 8.33m0 -8.33l-8.33 8.33M900.33 1154.83l8.33 8.33m0 -8.33l-8.33 8.33" fill="none" stroke="#1f77b4" stroke-width="1.39"/><circle cx="596" cy="889.2" r="4.65" fill="#ff0000"/><circle cx="614.5" cy="899.5" r="4.65" fill="#ff0000"/><circle cx="599" cy="889.3" r="4.65" fill="#ff0000"/><circle cx="591.5" cy="861.3" r="4.65" fill="#ff0000"/><circle cx="664.5" cy="884.3" r="4.65" fill="#ff0000"/><circle cx="701.5" cy="896.4" r="4.65" fill="#ff0000"/></g>
<g clip-path="url(#c21)"><polyline points="1014.8,617.4 1014.8,625.8 1014.8,627.5 1014.8,629.2 1014.8,631 1014.8,641.5 1014.99,650.2 1015.18,658.1 1015.47,659.8 1016.07,661.6 1016.23,663.3 1016.33,668 1016.46,673.8 1016.55,677.9 1016.63,681.2 1016.72,685.3 1016.91,694 1017.12,703.3 1017.52,707.4 1018.81,709.8 1018.99,719.7 1019.15,729 1019.19,731.3 1019.2,738.9 1019.2,746.2 1019.72,756.4 1019.33,756.1 1019.33,756.1 1019.33,756.1 1019.33,756.1 1019.33,756.1 1020.49,760.8 1020.45,770.1 1020.42,780.6 1020.41,782.9 1020.36,797.5 1020.34,803.3 1020.32,806.8 1020.32,809.2 1020.3,813.8 1020.27,822.5 1020.24,829.5 1020.24,831 1020.23,832.4 1020.23,833.6 1020.21,840 1020.37,849.3 1020.53,855.4 1020.5,855.5 1020.48,855.6 1020.45,855.4 1020.43,855.5 1020.41,855.6 1020.38,855.4 1020.35,855.5 1020.47,854 1020.18,857.5 1022.85,859.5 1025.7,866.83 1027.07,874.17 1028.7,881.5 1031.72,888.83 1036.61,896.17 1045.86,903.5 1024.09,861 1027.04,868.33 1027.26,875.67 1029.11,883 1032.65,890.33 1037.68,897.67 1043.25,905 1023.74,860.5 1025.92,867.92 1027.16,875.33 1028.97,882.75 1032.46,890.17 1037.53,897.58 1043.15,905 1024.05,861 1026.94,868.17 1027.16,875.33 1028.91,882.5 1032.16,889.67 1037,896.83 1042.38,904 1024.7,862 1027.16,868.9 1027.19,875.8 1028.91,882.7 1032.04,889.6 1036.66,896.5 1025.62,865 1048.91,889.2 1067.19,899.5 1051.87,889.3 1025.92,866 1021.53,860 1044.92,861.3 1117.05,884.3 1153.62,896.4 1180.22,904.3 1225.9,919.2 1253.3,927.8 1254.48,930 1255.32,931.5 1256.16,933 1257.01,934.5 1257.57,935.5 1258.41,937 1263.46,946 1268.19,957 1271.05,966 1274.2,976.5 1279.5,976.2 1283.95,976.2 1288.5,976.2 1295.1,981 1298.9,991 1300.04,994 1302.7,1001 1305.72,1010 1308.68,1020 1308.86,1020.6 1311.64,1030 1314.6,1040 1317.81,1049 1318.04,1049.8 1321.01,1060 1323.82,1069.7 1325.65,1076 1326.09,1077.5 1329.58,1089.5 1332.57,1098.6 1334.02,1101 1337.04,1106 1343.34,1116.4 1346.87,1122.9 1347.61,1125 1351.15,1135 1355.39,1147 1359.65,1159" fill="none" stroke="#1f77b4" stroke-width="2.08" stroke-linejoin="round" stroke-linecap="square"/><polyline points="1014.8,617.4 1014.8,625.8 1014.8,627.5 1014.8,629.2 1014.8,631 1014.8,641.5 1014.99,650.2 1015.18,658.1 1015.47,659.8 1016.07,661.6 1016.23,663.3 1016.33,668 1016.46,673.8 1016.55,677.9 1016.63,681.2 1016.72,685.3 1016.91,694 1017.12,703.3 1017.52,707.4 1018.81,709.8 1018.99,719.7 1019.15,729 1019.19,731.3 1019.2,738.9 1019.2,746.2 1019.72,756.4 1019.33,756.1 1019.33,756.1 1019.33,756.1 1019.33,756.1 1019.33,756.1 1020.49,760.8 1020.45,770.1 1020.42,780.6 1020.41,782.9 1020.36,797.5 1020.34,803.3 1020.32,806.8 1020.32,809.2 1020.3,813.8 1020.27,822.5 1020.24,829.5 1020.24,831 1020.23,832.4 1020.23,833.6 1020.21,840 1020.37,849.3 1020.53,855.4 1020.5,855.5 1020.48,855.6 1020.45,855.4 1020.43,855.5 1020.41,855.6 1020.38,855.4 1020.35,855.5 1020.47,854 1020.18,857.5 1022.85,859.5 1025.7,866.83 1027.07,874.17 1028.7,881.5 1031.72,888.83 1036.61,896.17 1045.86,903.5 1024.09,861 1027.04,868.33 1027.26,875.67 1029.11,883 1032.65,890.33 1037.68,897.67 1043.25,905 1023.74,860.5 1025.92,867.92 1027.16,875.33 1028.97,882.75 1032.46,890.17 1037.53,897.58 1043.15,905 1024.05,861 1026.94,868.17 1027.16,875.33 1028.91,882.5 1032.16,889.67 1037,896.83 1042.38,904 1024.7,862 1027.16,868.9 1027.19,875.8 1028.91,882.7 1032.04,889.6 1036.66,896.5 1025.62,865" fill="none" stroke="#bf00bf" stroke-width="2.08" stroke-linejoin="round" stroke-linecap="butt" stroke-dasharray="7.71 3.33"/><polyline points="1025.92,866 1021.53,860" fill="none" stroke="#bf00bf" stroke-width="2.08" stroke-linejoin="round" stroke-linecap="butt" stroke-dasharray="7.71 3.33"/><polyline points="1180.22,904.3 1225.9,919.2 1253.3,927.8 1254.48,930 1255.32,931.5 1256.16,933 1257.01,934.5 1257.57,935.5 1258.41,937 1263.46,946 1268.19,957 1271.05,966 1274.2,976.5 1279.5,976.2 1283.95,976.2 1288.5,976.2 1295.1,981 1298.9,991 1300.04,994 1302.7,1001 1305.72,1010 1308.68,1020 1308.86,1020.6 1311.64,1030 1314.6,1040 1317.81,1049 1318.04,1049.8 1321.01,1060 1323.82,1069.7 1325.65,1076 1326.09,1077.5 1329.58,1089.5 1332.57,1098.6 1334.02,1101 1337.04,1106 1343.34,1116.4 1346.87,1122.9 1347.61,1125 1351.15,1135 1355.39,1147 1359.65,1159" fill="none" stroke="#bf00bf" stroke-width="2.08" stroke-linejoin="round" stroke-linecap="butt" stroke-dasharray="7.71 3.33"/></g>
<path d="M109.5 559.5v4.86M164.5 559.5v4.86M218.5 559.5v4.86M273.5 559.5v4.86M327.5 559.5v4.86M382.5 559.5v4.86M436.5 559.5v4.86M71.5 35.5h-4.86M71.5 122.5h-4.86M71.5 208.5h-4.86M71.5 295.5h-4.86M71.5 381.5h-4.86M71.5 468.5h-4.86M71.5 554.5h-4.86" stroke="#000" stroke-width="1.11" fill="none"/>
<text x="109.5" y="580.47" font-size="13.89" text-anchor="middle" >−1.5</text>
<text x="164.05" y="580.47" font-size="13.89" text-anchor="middle" >−1.0</text>
<text x="218.6" y="580.47" font-size="13.89" text-anchor="middle" >−0.5</text>
<text x="273.15" y="580.47" font-size="13.89" text-anchor="middle" >0.0</text>
<text x="327.7" y="580.47" font-size="13.89" text-anchor="middle" >0.5</text>
<text x="382.25" y="580.47" font-size="13.89" text-anchor="middle" >1.0</text>
<text x="436.8" y="580.47" font-size="13.89" text-anchor="middle" >1.5</text>
<text x="60.58" y="41.05" font-size="13.89" text-anchor="end" >0</text>
<text x="60.58" y="127.55" font-size="13.89" text-anchor="end" >50</text>
<text x="60.58" y="214.05" font-size="13.89" text-anchor="end" >100</text>
<text x="60.58" y="300.55" font-size="13.89" text-anchor="end" >150</text>
<text x="60.58" y="387.05" font-size="13.89" text-anchor="end" >200</text>
<text x="60.58" y="473.55" font-size="13.89" text-anchor="end" >250</text>
<text x="60.58" y="560.05" font-size="13.89" text-anchor="end" >300</text>
<rect x="71.5" y="35.5" width="404" height="524" fill="none" stroke="#000" stroke-width="1.11"/>
<text x="273.5" y="599" font-size="13.89" text-anchor="middle" >T</text>
<text transform="translate(25.5 299.5) rotate(-90)" font-size="13.89" text-anchor="middle">Pressure</text>
<text x="272.3" y="26.67" font-size="16.67" text-anchor="middle" >4902437 Profile: 151</text>
<path d="M603.5 559.5v4.86M685.5 559.5v4.86M767.5 559.5v4.86M849.5 559.5v4.86M526.5 35.5h-4.86M526.5 122.5h-4.86M526.5 208.5h-4.86M526.5 295.5h-4.86M526.5 381.5h-4.86M526.5 468.5h-4.86M526.5 554.5h-4.86" stroke="#000" stroke-width="1.11" fill="none"/>
<text x="603.8" y="580.47" font-size="13.89" text-anchor="middle" >32.5</text>
<text x="685.7" y="580.47" font-size="13.89" text-anchor="middle" >33.0</text>
<text x="767.6" y="580.47" font-size="13.89" text-anchor="middle" >33.5</text>
<text x="849.5" y="580.47" font-size="13.89" text-anchor="middle" >34.0</text>
<text x="515.58" y="41.05" font-size="13.89" text-anchor="end" >0</text>
<text x="515.58" y="127.55" font-size="13.89" text-anchor="end" >50</text>
<text x="515.58" y="214.05" font-size="13.89" text-anchor="end" >100</text>
<text x="515.58" y="300.55" font-size="13.89" text-anchor="end" >150</text>
<text x="515.58" y="387.05" font-size="13.89" text-anchor="end" >200</text>
<text x="515.58" y="473.55" font-size="13.89" text-anchor="end" >250</text>
<text x="515.58" y="560.05" font-size="13.89" text-anchor="end" >300</text>
<rect x="526.5" y="35.5" width="404" height="524" fill="none" stroke="#000" stroke-width="1.11"/>
<text x="728.5" y="599" font-size="13.89" text-anchor="middle" >S</text>
<path d="M1034.5 559.5v4.86M1089.5 559.5v4.86M1144.5 559.5v4.86M1199.5 559.5v4.86M1254.5 559.5v4.86M1309.5 559.5v4.86M1365.5 559.5v4.86M981.5 35.5h-4.86M981.5 122.5h-4.86M981.5 208.5h-4.86M981.5 295.5h-4.86M981.5 381.5h-4.86M981.5 468.5h-4.86M981.5 554.5h-4.86" stroke="#000" stroke-width="1.11" fill="none"/>
<text x="1034.2" y="580.47" font-size="13.89" text-anchor="middle" >26.00</text>
<text x="1089.35" y="580.47" font-size="13.89" text-anchor="middle" >26.25</text>
<text x="1144.5" y="580.47" font-size="13.89" text-anchor="middle" >26.50</text>
<text x="1199.65" y="580.47" font-size="13.89" text-anchor="middle" >26.75</text>
<text x="1254.8" y="580.47" font-size="13.89" text-anchor="middle" >27.00</text>
<text x="1309.95" y="580.47" font-size="13.89" text-anchor="middle" >27.25</text>
<text x="1365.1" y="580.47" font-size="13.89" text-anchor="middle" >27.50</text>
<text x="970.58" y="41.05" font-size="13.89" text-anchor="end" >0</text>
<text x="970.58" y="127.55" font-size="13.89" text-anchor="end" >50</text>
<text x="970.58" y="214.05" font-size="13.89" text-anchor="end" >100</text>
<text x="970.58" y="300.55" font-size="13.89" text-anchor="end" >150</text>
<text x="970.58" y="387.05" font-size="13.89" text-anchor="end" >200</text>
<text x="970.58" y="473.55" font-size="13.89" text-anchor="end" >250</text>
<text x="970.58" y="560.05" font-size="13.89" text-anchor="end" >300</text>
<rect x="981.5" y="35.5" width="404" height="524" fill="none" stroke="#000" stroke-width="1.11"/>
<text x="1183.5" y="599" font-size="13.89" text-anchor="middle" >PDENS</text>
<path d="M89.5 1142.5v4.86M135.5 1142.5v4.86M180.5 1142.5v4.86M226.5 1142.5v4.86M272.5 1142.5v4.86M317.5 1142.5v4.86M363.5 1142.5v4.86M409.5 1142.5v4.86M455.5 1142.5v4.86M71.5 624.5h-4.86M71.5 685.5h-4.86M71.5 745.5h-4.86M71.5 806.5h-4.86M71.5 867.5h-4.86M71.5 928.5h-4.86M71.5 988.5h-4.86M71.5 1049.5h-4.86M71.5 1110.5h-4.86" stroke="#000" stroke-width="1.11" fill="none"/>
<text x="89.4" y="1163.47" font-size="13.89" text-anchor="middle" >−1.25</text>
<text x="135.11" y="1163.47" font-size="13.89" text-anchor="middle" >−1.20</text>
<text x="180.83" y="1163.47" font-size="13.89" text-anchor="middle" >−1.15</text>
<text x="226.54" y="1163.47" font-size="13.89" text-anchor="middle" >−1.10</text>
<text x="272.25" y="1163.47" font-size="13.89" text-anchor="middle" >−1.05</text>
<text x="317.96" y="1163.47" font-size="13.89" text-anchor="middle" >−1.00</text>
<text x="363.68" y="1163.47" font-size="13.89" text-anchor="middle" >−0.95</text>
<text x="409.39" y="1163.47" font-size="13.89" text-anchor="middle" >−0.90</text>
<text x="455.1" y="1163.47" font-size="13.89" text-anchor="middle" >−0.85</text>
<text x="60.58" y="629.95" font-size="13.89" text-anchor="end" >10</text>
<text x="60.58" y="690.69" font-size="13.89" text-anchor="end" >15</text>
<text x="60.58" y="751.42" font-size="13.89" text-anchor="end" >20</text>
<text x="60.58" y="812.16" font-size="13.89" text-anchor="end" >25</text>
<text x="60.58" y="872.9" font-size="13.89" text-anchor="end" >30</text>
<text x="60.58" y="933.64" font-size="13.89" text-anchor="end" >35</text>
<text x="60.58" y="994.37" font-size="13.89" text-anchor="end" >40</text>
<text x="60.58" y="1055.11" font-size="13.89" text-anchor="end" >45</text>
<text x="60.58" y="1115.85" font-size="13.89" text-anchor="end" >50</text>
<rect x="71.5" y="618.5" width="404" height="524" fill="none" stroke="#000" stroke-width="1.11"/>
<text x="273.5" y="1182" font-size="13.89" text-anchor="middle" >T</text>
<text transform="translate(34.5 882.5) rotate(-90)" font-size="13.89" text-anchor="middle">Pressure</text>
<path d="M547.5 1142.5v4.86M619.5 1142.5v4.86M690.5 1142.5v4.86M762.5 1142.5v4.86M834.5 1142.5v4.86M905.5 1142.5v4.86M526.5 624.5h-4.86M526.5 685.5h-4.86M526.5 745.5h-4.86M526.5 806.5h-4.86M526.5 867.5h-4.86M526.5 928.5h-4.86M526.5 988.5h-4.86M526.5 1049.5h-4.86M526.5 1110.5h-4.86" stroke="#000" stroke-width="1.11" fill="none"/>
<text x="547.4" y="1163.47" font-size="13.89" text-anchor="middle" >32.2</text>
<text x="619.1" y="1163.47" font-size="13.89" text-anchor="middle" >32.4</text>
<text x="690.8" y="1163.47" font-size="13.89" text-anchor="middle" >32.6</text>
<text x="762.5" y="1163.47" font-size="13.89" text-anchor="middle" >32.8</text>
<text x="834.2" y="1163.47" font-size="13.89" text-anchor="middle" >33.0</text>
<text x="905.9" y="1163.47" font-size="13.89" text-anchor="middle" >33.2</text>
<text x="515.58" y="629.95" font-size="13.89" text-anchor="end" >10</text>
<text x="515.58" y="690.69" font-size="13.89" text-anchor="end" >15</text>
<text x="515.58" y="751.42" font-size="13.89" text-anchor="end" >20</text>
<text x="515.58" y="812.16" font-size="13.89" text-anchor="end" >25</text>
<text x="515.58" y="872.9" font-size="13.89" text-anchor="end" >30</text>
<text x="515.58" y="933.64" font-size="13.89" text-anchor="end" >35</text>
<text x="515.58" y="994.37" font-size="13.89" text-anchor="end" >40</text>
<text x="515.58" y="1055.11" font-size="13.89" text-anchor="end" >45</text>
<text x="515.58" y="1115.85" font-size="13.89" text-anchor="end" >50</text>
<rect x="526.5" y="618.5" width="404" height="524" fill="none" stroke="#000" stroke-width="1.11"/>
<text x="728.5" y="1182" font-size="13.89" text-anchor="middle" >S</text>
<path d="M1052.5 1142.5v4.86M1139.5 1142.5v4.86M1226.5 1142.5v4.86M1314.5 1142.5v4.86M981.5 624.5h-4.86M981.5 685.5h-4.86M981.5 745.5h-4.86M981.5 806.5h-4.86M981.5 867.5h-4.86M981.5 928.5h-4.86M981.5 988.5h-4.86M981.5 1049.5h-4.86M981.5 1110.5h-4.86" stroke="#000" stroke-width="1.11" fill="none"/>
<text x="1052.2" y="1163.47" font-size="13.89" text-anchor="middle" >26.0</text>
<text x="1139.6" y="1163.47" font-size="13.89" text-anchor="middle" >26.2</text>
<text x="1227" y="1163.47" font-size="13.89" text-anchor="middle" >26.4</text>
<text x="1314.4" y="1163.47" font-size="13.89" text-anchor="middle" >26.6</text>
<text x="970.58" y="629.95" font-size="13.89" text-anchor="end" >10</text>
<text x="970.58" y="690.69" font-size="13.89" text-anchor="end" >15</text>
<text x="970.58" y="751.42" font-size="13.89" text-anchor="end" >20</text>
<text x="970.58" y="812.16" font-size="13.89" text-anchor="end" >25</text>
<text x="970.58" y="872.9" font-size="13.89" text-anchor="end" >30</text>
<text x="970.58" y="933.64" font-size="13.89" text-anchor="end" >35</text>
<text x="970.58" y="994.37" font-size="13.89" text-anchor="end" >40</text>
<text x="970.58" y="1055.11" font-size="13.89" text-anchor="end" >45</text>
<text x="970.58" y="1115.85" font-size="13.89" text-anchor="end" >50</text>
<rect x="981.5" y="618.5" width="404" height="524" fill="none" stroke="#000" stroke-width="1.11"/>
<text x="1183.5" y="1182" font-size="13.89" text-anchor="middle" >PDENS</text>
</svg>
</body></html>
